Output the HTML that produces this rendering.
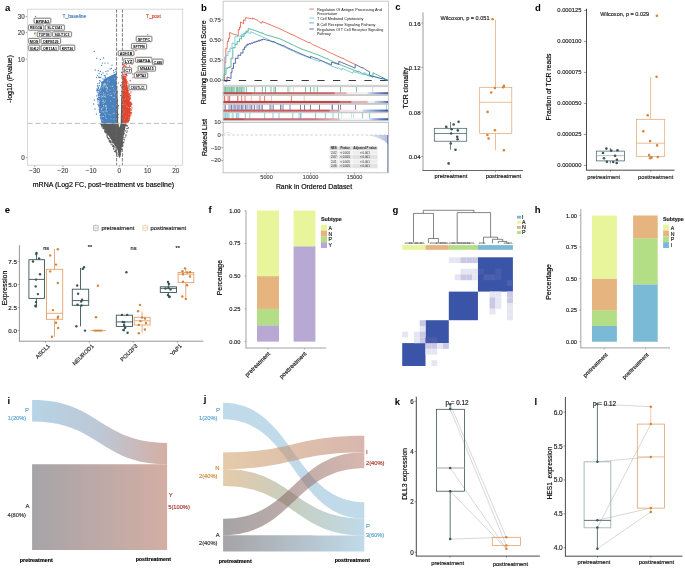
<!DOCTYPE html>
<html><head><meta charset="utf-8"><style>html,body{margin:0;padding:0;background:#fff;}svg{display:block;}text{font-family:"Liberation Sans",sans-serif;}</style></head>
<body><svg width="685" height="569" viewBox="0 0 685 569">
<rect width="685" height="569" fill="#fff"/>
<g style="will-change:transform">
<text x="5.00" y="7.90" font-size="9.5" text-anchor="start" fill="#000" dominant-baseline="central" font-weight="bold">a</text>
<line x1="34.70" y1="165.20" x2="34.70" y2="167.00" stroke="#555" stroke-width="0.5"/>
<text x="34.70" y="170.80" font-size="6.3" text-anchor="middle" fill="#4d4d4d" stroke="#4d4d4d" stroke-width="0.16" dominant-baseline="central">−30</text>
<line x1="62.90" y1="165.20" x2="62.90" y2="167.00" stroke="#555" stroke-width="0.5"/>
<text x="62.90" y="170.80" font-size="6.3" text-anchor="middle" fill="#4d4d4d" stroke="#4d4d4d" stroke-width="0.16" dominant-baseline="central">−20</text>
<line x1="91.10" y1="165.20" x2="91.10" y2="167.00" stroke="#555" stroke-width="0.5"/>
<text x="91.10" y="170.80" font-size="6.3" text-anchor="middle" fill="#4d4d4d" stroke="#4d4d4d" stroke-width="0.16" dominant-baseline="central">−10</text>
<line x1="119.30" y1="165.20" x2="119.30" y2="167.00" stroke="#555" stroke-width="0.5"/>
<text x="119.30" y="170.80" font-size="6.3" text-anchor="middle" fill="#4d4d4d" stroke="#4d4d4d" stroke-width="0.16" dominant-baseline="central">0</text>
<line x1="147.50" y1="165.20" x2="147.50" y2="167.00" stroke="#555" stroke-width="0.5"/>
<text x="147.50" y="170.80" font-size="6.3" text-anchor="middle" fill="#4d4d4d" stroke="#4d4d4d" stroke-width="0.16" dominant-baseline="central">10</text>
<line x1="175.70" y1="165.20" x2="175.70" y2="167.00" stroke="#555" stroke-width="0.5"/>
<text x="175.70" y="170.80" font-size="6.3" text-anchor="middle" fill="#4d4d4d" stroke="#4d4d4d" stroke-width="0.16" dominant-baseline="central">20</text>
<line x1="25.60" y1="157.70" x2="27.40" y2="157.70" stroke="#555" stroke-width="0.5"/>
<text x="24.80" y="157.70" font-size="6.3" text-anchor="end" fill="#4d4d4d" stroke="#4d4d4d" stroke-width="0.16" dominant-baseline="central">0</text>
<line x1="25.60" y1="59.18" x2="27.40" y2="59.18" stroke="#555" stroke-width="0.5"/>
<text x="24.80" y="59.18" font-size="6.3" text-anchor="end" fill="#4d4d4d" stroke="#4d4d4d" stroke-width="0.16" dominant-baseline="central">10</text>
<line x1="25.60" y1="32.62" x2="27.40" y2="32.62" stroke="#555" stroke-width="0.5"/>
<text x="24.80" y="32.62" font-size="6.3" text-anchor="end" fill="#4d4d4d" stroke="#4d4d4d" stroke-width="0.16" dominant-baseline="central">20</text>
<line x1="25.60" y1="16.62" x2="27.40" y2="16.62" stroke="#555" stroke-width="0.5"/>
<text x="24.80" y="16.62" font-size="6.3" text-anchor="end" fill="#4d4d4d" stroke="#4d4d4d" stroke-width="0.16" dominant-baseline="central">30</text>
<text x="9.60" y="79.00" font-size="7" text-anchor="middle" fill="#000" stroke="#000" stroke-width="0.16" dominant-baseline="central" transform="rotate(-90 9.6 79)">-log10 (Pvalue)</text>
<text x="103.50" y="184.30" font-size="7" text-anchor="middle" fill="#000" stroke="#000" stroke-width="0.16" dominant-baseline="central">mRNA (Log2 FC, post−treatment vs baseline)</text>
<polygon points="100.9,123.4 126.1,123.4 121.0,150.0 119.3,158.8 117.6,150.0" fill="#5b5b5b" stroke="none" stroke-width="0.5"/>
<path d="M107.6 134.3h0M126.4 125.9h0M125.3 125.4h0M107.9 138.0h0M123.1 137.7h0M127.1 131.0h0M112.7 142.8h0M126.3 125.1h0M103.6 128.3h0M115.7 150.8h0M112.6 144.9h0M102.0 125.6h0M112.7 146.3h0M111.0 143.1h0M120.8 150.1h0M123.7 142.7h0M115.3 147.9h0M104.4 127.5h0M103.0 128.6h0M122.3 145.9h0M117.0 152.8h0M122.6 143.4h0M120.7 151.6h0M113.4 145.7h0M122.9 145.2h0M106.9 133.0h0M101.2 124.3h0M104.4 127.4h0M103.6 127.8h0M116.2 152.7h0M123.8 141.9h0M116.0 152.4h0M125.9 135.5h0M103.5 128.6h0M105.9 131.3h0M105.9 132.3h0M125.8 135.9h0M122.2 146.6h0M114.2 146.2h0M121.7 149.6h0M107.2 136.6h0M111.2 144.7h0M104.8 130.5h0M101.6 125.3h0M102.1 126.9h0M120.1 152.8h0M105.6 132.0h0M128.3 127.6h0M108.4 139.1h0M102.8 126.9h0M114.4 151.3h0M119.6 155.4h0M110.9 141.7h0M119.8 156.3h0M105.2 132.2h0M121.7 149.4h0M108.1 134.5h0M119.8 156.5h0M120.6 150.9h0M109.1 140.8h0M101.5 124.4h0M121.8 146.7h0M120.4 154.9h0M107.1 135.7h0M105.3 130.1h0M120.3 153.7h0M121.5 145.4h0M122.7 145.6h0M113.5 148.6h0M115.8 149.9h0M117.8 156.1h0M119.6 155.2h0M104.9 127.8h0M116.2 150.5h0M119.5 156.3h0M109.6 141.9h0M119.7 156.0h0M118.4 154.8h0M114.9 151.2h0M106.9 133.3h0M105.1 132.2h0M116.9 154.0h0M122.6 143.0h0M120.2 154.2h0M110.4 141.0h0M105.6 129.6h0M105.2 129.3h0M111.1 142.1h0M122.2 142.1h0M110.5 142.3h0M121.4 149.4h0M121.3 149.0h0M122.6 144.0h0M113.5 146.7h0M124.1 139.5h0M120.2 152.9h0M123.7 142.2h0M103.9 128.1h0M101.8 125.9h0M122.8 145.9h0M126.8 128.7h0M128.0 128.3h0M125.4 130.9h0M124.4 139.8h0M104.5 128.9h0M106.9 134.9h0M114.0 147.7h0M108.7 138.3h0M121.6 144.4h0M119.9 156.5h0M102.2 127.0h0M113.8 149.6h0M124.9 137.6h0M107.2 132.2h0M122.1 142.6h0M126.7 125.4h0M127.4 125.9h0M116.2 150.4h0M126.8 125.7h0M126.0 134.9h0M106.3 132.5h0M104.8 131.5h0M102.0 125.2h0M124.4 133.7h0M109.7 140.3h0M100.7 124.1h0M121.1 148.1h0M122.7 139.4h0M115.5 150.9h0M115.8 151.5h0M121.7 146.5h0M121.0 151.4h0M107.3 137.1h0M104.5 127.8h0M104.9 132.1h0M121.0 151.7h0M105.9 132.9h0M109.3 138.9h0M126.8 132.3h0M112.2 141.8h0" stroke="#5b5b5b" stroke-width="1.3" stroke-linecap="round" fill="none" opacity="1"/>
<polygon points="116.6,123.4 118.2,123.4 117.7,100.0 117.2,88.0 116.6,82.0" fill="#5b5b5b" stroke="none" stroke-width="0.5"/>
<polygon points="122.5,123.4 120.7,123.4 121.2,100.0 121.7,88.0 122.5,78.0" fill="#5b5b5b" stroke="none" stroke-width="0.5"/>
<polygon points="118.2,123.3 120.7,123.3 119.5,127.8" fill="#ffffff" stroke="none" stroke-width="0.5"/>
<path d="M117.2 92.8h0M116.6 93.9h0M117.5 99.6h0M117.0 99.7h0M116.6 88.4h0M116.8 94.8h0M116.7 77.1h0M117.2 86.9h0M117.8 100.9h0M118.1 106.9h0M118.0 117.3h0M117.4 91.3h0M118.6 83.0h0M118.0 106.2h0M116.7 115.3h0M118.4 105.5h0M118.1 114.2h0M116.9 100.6h0M117.6 115.2h0M118.2 114.8h0M117.8 118.0h0M118.0 108.6h0M117.1 77.5h0M116.9 93.0h0M116.8 115.3h0M121.6 104.0h0M121.7 106.7h0M121.5 72.2h0M122.0 110.2h0M121.5 99.3h0M121.8 75.4h0M121.9 84.9h0M120.7 85.5h0M121.9 82.5h0M121.9 121.8h0M121.5 91.5h0M121.5 106.9h0M122.0 103.5h0M121.8 76.0h0M120.9 85.0h0M121.9 87.5h0M121.6 72.6h0M120.7 85.7h0M121.8 107.3h0M121.8 86.8h0M121.5 95.7h0M121.4 78.0h0M122.2 82.2h0M122.4 119.7h0M120.6 95.4h0" stroke="#5b5b5b" stroke-width="1.0" stroke-linecap="round" fill="none" opacity="1"/>
<polygon points="116.6,123.4 101.8,123.4 100.2,114.0 99.5,104.0 99.8,94.0 100.5,87.0 102.0,82.0 105.0,78.5 110.0,76.0 116.6,73.0" fill="#4a82bd" stroke="none" stroke-width="0.5"/>
<path d="M103.9 114.5h0M98.7 97.1h0M115.0 85.9h0M108.2 85.9h0M107.3 82.7h0M112.7 82.2h0M103.0 117.7h0M114.1 86.9h0M97.3 98.8h0M97.9 90.2h0M99.0 92.2h0M100.1 115.5h0M103.3 111.3h0M114.7 81.6h0M101.6 118.4h0M99.5 93.5h0M103.0 122.9h0M99.8 93.0h0M97.3 88.9h0M101.7 120.0h0M100.6 88.5h0M104.3 84.9h0M103.7 120.9h0M102.5 114.2h0M103.8 118.9h0M102.2 101.8h0M102.4 111.4h0M97.3 89.5h0M101.3 119.6h0M99.4 98.2h0M102.1 90.0h0M102.0 121.9h0M100.2 106.8h0M100.2 102.2h0M102.3 118.6h0M114.2 86.3h0M102.6 122.8h0M97.4 92.1h0M102.0 87.2h0M103.3 102.8h0M101.3 111.2h0M100.4 95.5h0M99.1 93.7h0M103.0 78.9h0M106.9 81.9h0M101.1 116.6h0M98.8 88.7h0M99.8 94.8h0M103.6 120.8h0M100.5 117.0h0M110.8 77.5h0M101.1 98.2h0M105.2 76.0h0M103.4 114.8h0M101.9 121.7h0M100.6 81.1h0M103.7 108.1h0M102.3 109.9h0M101.6 111.9h0M97.9 101.9h0M100.7 112.8h0M102.9 119.2h0M97.8 90.3h0M109.1 87.8h0M99.5 108.8h0M107.4 79.3h0M98.2 94.2h0M98.1 104.2h0M100.2 90.2h0M103.0 121.1h0M102.2 117.5h0M101.8 87.0h0M103.2 121.1h0M97.0 90.4h0M101.8 99.4h0M98.5 95.7h0M103.6 107.4h0M97.9 86.7h0M99.8 91.9h0M99.8 108.1h0M102.9 113.5h0M98.6 99.7h0M102.1 121.6h0M100.9 114.5h0M111.5 86.4h0M103.7 89.9h0M98.5 99.3h0M105.1 86.5h0M103.7 107.3h0M101.7 121.8h0M103.6 118.2h0M104.0 110.4h0M101.9 119.8h0M114.8 84.7h0M99.5 111.1h0M100.7 107.2h0M99.0 93.6h0M103.7 92.5h0M102.7 92.8h0M101.7 114.6h0M101.4 119.2h0M103.2 93.1h0M105.5 77.4h0M99.7 112.0h0M99.3 77.6h0M102.3 88.1h0M101.8 118.2h0M103.7 88.8h0M99.7 105.0h0M100.6 109.7h0M97.0 89.0h0M103.6 111.5h0M103.7 105.8h0M103.9 121.0h0M98.4 94.2h0M100.3 96.2h0M101.5 119.6h0M102.9 113.7h0M103.1 114.7h0M100.1 104.5h0M99.4 91.0h0M100.0 112.8h0M111.4 85.3h0M98.4 87.6h0M103.7 122.1h0M102.1 122.4h0M101.2 109.4h0M105.0 87.0h0M102.1 105.2h0M103.3 111.2h0M99.3 107.2h0M101.3 115.5h0M100.1 102.6h0M100.2 110.7h0M101.8 87.6h0M113.9 83.2h0M99.6 91.3h0M102.7 122.6h0M112.4 86.9h0M104.0 106.7h0M106.5 80.8h0M103.7 115.5h0M115.5 84.9h0M103.6 103.4h0M103.0 93.5h0M98.7 97.1h0M103.8 112.6h0M108.7 81.0h0M104.2 86.2h0M101.9 104.2h0M97.6 85.6h0M101.7 91.4h0M103.2 84.7h0M112.2 85.6h0M98.0 101.8h0M105.0 80.8h0M98.9 106.0h0M99.1 89.3h0M102.0 120.8h0M100.0 102.6h0M103.0 95.6h0M102.4 122.8h0M110.9 85.3h0M97.5 85.6h0M102.1 118.4h0M101.6 114.6h0M102.1 117.5h0M97.8 83.6h0M103.5 106.1h0M98.2 99.7h0M100.6 89.3h0M101.2 119.5h0M102.7 99.1h0M101.8 121.4h0M115.0 82.0h0M97.4 98.7h0M102.1 119.5h0M102.7 118.5h0M100.6 114.8h0M100.6 112.9h0M102.8 95.0h0M100.8 115.0h0M104.8 86.3h0M99.9 100.3h0M102.2 81.8h0M100.8 118.2h0M102.5 102.4h0M101.3 104.2h0M100.1 105.5h0M100.9 95.7h0M101.5 96.0h0M99.9 97.0h0M111.6 87.1h0M101.6 112.7h0M106.2 84.4h0M105.9 80.3h0M102.9 110.5h0M97.7 100.0h0M99.8 99.7h0M101.5 120.7h0M104.0 116.3h0M103.1 110.4h0M115.7 85.1h0M103.7 99.1h0M101.3 119.1h0M103.7 113.1h0M104.3 79.1h0M100.5 114.3h0M103.5 99.6h0M102.2 85.8h0M99.4 99.8h0M103.0 120.0h0M101.2 118.1h0M100.2 112.9h0M101.6 100.9h0M103.1 92.9h0M101.4 102.1h0M100.9 117.5h0M103.1 122.7h0M102.5 94.5h0M103.9 88.4h0M100.1 103.1h0M101.5 111.9h0M111.2 84.3h0M103.9 106.0h0M102.0 103.5h0M96.8 90.7h0M100.8 77.6h0M100.4 96.3h0M101.1 118.1h0M109.5 86.7h0M101.5 103.4h0M109.0 85.6h0M97.9 98.3h0M101.7 120.0h0M99.4 83.0h0M103.2 117.0h0M98.4 94.9h0M109.7 76.5h0M101.4 92.5h0M103.5 96.9h0M100.4 110.5h0M100.8 118.5h0M100.1 101.0h0M98.3 87.2h0M99.7 112.6h0M103.6 101.9h0M101.3 82.7h0M101.6 99.8h0M100.6 114.2h0M99.0 90.5h0M114.0 78.3h0M99.1 109.6h0M103.0 115.7h0M102.2 97.9h0M98.4 97.3h0M102.2 91.8h0M103.2 108.7h0M100.4 109.4h0M100.4 102.0h0M101.9 113.1h0M101.5 88.5h0M101.8 121.4h0M100.5 117.4h0M98.7 88.2h0M103.7 111.0h0M100.9 111.1h0M101.6 117.4h0M114.3 87.2h0M102.3 105.6h0M103.9 107.3h0M102.9 98.1h0M103.3 108.8h0M102.0 96.5h0M99.7 102.8h0M108.9 86.0h0M100.1 77.3h0M97.7 92.2h0M98.9 77.4h0M102.3 105.8h0M99.6 110.6h0M100.2 103.8h0M103.3 114.4h0M100.8 117.9h0M103.7 116.8h0M101.3 120.4h0M99.4 85.7h0M113.3 77.6h0M103.0 105.8h0M100.0 105.7h0M99.6 80.7h0M103.3 85.6h0M96.7 95.9h0M99.0 88.1h0M100.9 109.6h0M103.7 91.1h0M103.0 99.7h0M98.4 105.1h0M99.8 95.4h0M101.1 112.3h0M101.7 109.1h0M113.4 86.2h0M94.3 51.4h0M96.7 58.4h0M100.4 59.4h0M103.6 58.0h0M102.4 63.1h0M104.9 63.1h0M107.9 63.1h0M101.6 65.4h0M112.0 65.2h0M111.5 68.5h0M110.1 69.0h0M95.2 70.0h0M98.3 70.5h0M100.4 71.5h0M103.0 73.0h0M106.0 71.5h0M108.0 71.0h0M114.0 72.5h0M116.0 71.5h0M97.6 75.3h0M99.1 73.5h0M113.5 70.5h0M115.3 69.5h0M101.5 74.5h0M104.2 75.5h0M96.5 77.5h0M98.8 77.0h0M107.0 74.0h0M94.5 100.0h0M93.6 104.0h0M95.0 109.0h0M96.4 114.0h0" stroke="#4a82bd" stroke-width="1.3" stroke-linecap="round" fill="none" opacity="1"/>
<path d="M100.3 113.6h0M100.9 80.1h0M101.2 111.2h0M107.8 80.2h0M103.7 100.2h0M106.3 87.6h0M103.7 94.2h0M106.6 90.7h0M107.5 91.6h0M101.3 108.7h0M103.7 84.5h0M104.9 83.3h0M106.2 108.6h0M106.2 105.7h0M102.5 96.5h0M102.9 116.5h0M100.2 116.4h0M99.7 88.5h0M101.7 116.9h0M103.8 95.6h0M107.0 89.6h0M103.4 101.8h0M105.9 110.9h0M105.0 94.3h0M102.3 86.4h0M106.7 107.1h0M105.8 87.0h0M103.2 111.7h0M104.4 85.2h0M103.4 116.3h0M101.5 87.9h0M102.1 108.8h0M106.7 86.3h0M100.8 90.2h0M102.3 101.4h0M100.9 93.5h0M101.1 120.0h0M105.7 84.2h0M107.7 84.2h0M102.8 120.3h0M106.3 110.1h0M103.2 88.0h0M104.9 84.4h0M101.3 95.9h0M99.8 96.4h0M106.2 108.4h0M103.8 105.9h0M103.4 85.8h0M104.6 96.6h0M105.8 117.2h0M103.2 103.5h0M105.9 97.3h0M101.4 109.6h0M107.0 111.7h0M105.5 115.0h0M105.3 106.3h0M103.4 92.8h0M104.8 84.0h0M103.1 112.1h0M105.6 105.8h0M101.6 97.4h0M103.4 105.5h0M103.0 107.7h0M107.4 87.5h0M105.1 111.9h0M102.8 100.1h0M107.8 81.6h0M104.1 86.6h0M106.1 118.6h0M103.9 84.1h0M104.4 102.2h0M105.6 101.0h0M104.9 114.0h0M103.9 96.8h0M107.6 88.6h0M105.3 96.1h0M106.0 85.0h0M107.9 94.6h0M100.0 91.2h0M102.9 80.5h0M111.3 95.3h0M113.6 92.2h0M110.1 86.3h0M113.9 119.2h0M112.2 86.1h0M114.4 94.0h0M109.7 81.9h0M114.2 113.2h0M113.1 97.6h0M112.5 86.4h0M115.7 92.2h0M113.1 113.7h0M114.5 97.5h0M110.4 101.2h0M109.0 114.4h0M110.8 115.1h0M110.1 93.3h0M110.0 95.6h0M109.5 76.1h0M113.8 88.9h0M110.0 89.9h0M111.8 95.7h0M113.1 106.3h0M110.9 118.7h0M114.8 78.6h0" stroke="#ffffff" stroke-width="0.8" stroke-linecap="round" fill="none" opacity="0.75"/>
<polygon points="122.5,123.4 126.8,123.4 129.3,118.0 130.2,112.0 129.8,100.0 128.3,90.0 126.3,81.0 124.3,76.5 122.5,75.0" fill="#e2462f" stroke="none" stroke-width="0.5"/>
<path d="M130.9 114.9h0M129.3 112.8h0M130.1 115.1h0M123.5 76.7h0M128.4 120.7h0M126.9 87.8h0M125.9 82.7h0M130.0 112.5h0M127.9 83.2h0M129.3 113.2h0M129.1 117.9h0M130.9 112.7h0M129.6 118.0h0M128.7 115.4h0M130.4 108.6h0M130.3 110.9h0M129.1 117.5h0M127.5 88.4h0M126.6 82.5h0M125.4 78.7h0M126.6 82.8h0M129.6 99.4h0M127.9 116.6h0M129.5 115.5h0M130.2 102.4h0M129.2 115.5h0M130.5 95.7h0M126.1 79.5h0M128.8 105.9h0M130.5 104.7h0M127.8 119.8h0M127.6 122.1h0M130.6 98.8h0M125.8 77.6h0M129.6 105.4h0M128.9 116.5h0M129.5 98.3h0M129.7 112.2h0M129.0 96.5h0M130.7 102.0h0M129.6 89.8h0M129.1 95.0h0M128.4 88.8h0M128.1 121.8h0M129.8 113.2h0M128.2 90.9h0M130.2 103.6h0M129.1 112.9h0M131.5 110.0h0M128.4 101.6h0M127.3 90.1h0M128.4 84.9h0M130.4 104.6h0M131.4 113.1h0M130.3 104.8h0M130.6 105.5h0M130.4 104.0h0M128.0 86.0h0M130.1 97.5h0M125.2 80.8h0M126.0 77.7h0M129.0 119.0h0M129.9 93.3h0M130.5 113.0h0M127.6 88.1h0M128.7 95.8h0M129.6 96.2h0M127.0 119.9h0M128.5 102.7h0M127.2 81.6h0M131.0 103.0h0M127.9 97.0h0M129.3 94.2h0M129.5 120.1h0M129.2 98.3h0M126.5 80.8h0M126.6 86.0h0M123.5 76.7h0M129.2 108.1h0M126.6 121.4h0M128.1 116.9h0M125.6 76.8h0M128.6 87.4h0M126.0 84.8h0M131.1 112.4h0M130.0 116.2h0M126.2 80.0h0M130.3 109.3h0M127.6 119.8h0M128.4 121.3h0M123.5 76.5h0M131.0 106.6h0M125.2 79.7h0M129.5 110.3h0M129.2 116.5h0M125.1 78.8h0M129.7 103.0h0M129.2 107.8h0M129.8 113.5h0M130.5 106.3h0M128.9 95.6h0M131.6 113.0h0M130.5 112.9h0M127.4 89.7h0M128.3 121.8h0M129.3 114.9h0M131.3 104.5h0M130.0 115.1h0M128.5 90.5h0M128.5 117.7h0M125.6 71.8h0M126.5 74.5h0M123.8 64.0h0M123.8 69.5h0M125.2 74.6h0M126.5 64.5h0M126.3 74.6h0M126.4 71.4h0M123.8 75.1h0M126.2 72.9h0M126.6 68.5h0M123.0 71.2h0M126.1 66.6h0M125.9 76.1h0M123.6 71.9h0M125.6 70.0h0M123.5 67.3h0M125.9 74.3h0M124.6 65.1h0M126.1 74.0h0M123.6 71.5h0M126.5 75.5h0M124.9 70.2h0M125.2 66.5h0M123.4 66.3h0M125.7 68.7h0M125.1 69.2h0M124.9 65.9h0M122.8 77.0h0M124.2 65.4h0M125.4 74.2h0M123.3 71.8h0M124.1 70.8h0M122.7 64.4h0M127.0 75.3h0M124.7 71.4h0M123.8 74.1h0M124.5 76.3h0M126.0 74.6h0M126.8 67.3h0M147.8 34.9h0M135.0 43.6h0M136.0 50.5h0M134.0 54.0h0M135.0 58.0h0M141.5 62.0h0M132.0 64.5h0M129.5 66.0h0M128.0 67.5h0M126.5 69.0h0M137.0 71.5h0M136.5 73.5h0M132.7 74.0h0M130.2 80.7h0M133.0 77.5h0M132.0 86.0h0M134.5 89.5h0M131.0 92.0h0M133.4 86.5h0M132.0 108.0h0M131.8 104.0h0" stroke="#e2462f" stroke-width="1.35" stroke-linecap="round" fill="none" opacity="1"/>
<path d="M123.7 88.2h0M124.5 83.4h0M123.8 102.9h0M128.3 98.8h0M128.7 117.3h0M123.9 104.5h0M125.7 84.9h0M128.8 90.5h0M126.6 106.3h0M128.8 107.5h0M125.7 98.4h0M124.4 119.6h0M129.0 89.1h0M123.7 90.5h0M125.4 117.0h0M128.5 114.3h0M123.8 112.2h0M127.4 106.5h0M128.9 82.3h0M124.3 111.0h0M128.7 107.8h0M125.1 104.3h0M127.7 84.3h0M125.3 90.5h0M124.2 99.7h0" stroke="#ffffff" stroke-width="0.6" stroke-linecap="round" fill="none" opacity="0.5"/>
<line x1="27.40" y1="123.40" x2="182.70" y2="123.40" stroke="#bdbdbd" stroke-width="1.0" stroke-dasharray="5.2,2.7"/>
<line x1="116.60" y1="9.20" x2="116.60" y2="165.20" stroke="#666" stroke-width="0.85" stroke-dasharray="3.5,1.3"/>
<line x1="122.40" y1="9.20" x2="122.40" y2="165.20" stroke="#666" stroke-width="0.85" stroke-dasharray="3.5,1.3"/>
<rect x="27.40" y="9.20" width="155.30" height="156.00" fill="none" stroke="#cfcfcf" stroke-width="0.8"/>
<text x="62.50" y="16.80" font-size="4.85" text-anchor="start" fill="#4a82bd" stroke="#4a82bd" stroke-width="0.16" dominant-baseline="central">T_baseline</text>
<text x="146.00" y="16.80" font-size="4.85" text-anchor="start" fill="#e2462f" stroke="#e2462f" stroke-width="0.16" dominant-baseline="central">T_post</text>
<line x1="35.20" y1="23.00" x2="35.20" y2="31.00" stroke="#e8d44a" stroke-width="0.5"/>
<line x1="35.20" y1="30.00" x2="35.20" y2="45.00" stroke="#e8d44a" stroke-width="0.5"/>
<line x1="36.00" y1="36.00" x2="38.00" y2="36.00" stroke="#e8d44a" stroke-width="0.5"/>
<line x1="41.00" y1="43.00" x2="41.00" y2="46.00" stroke="#e8d44a" stroke-width="0.5"/>
<line x1="45.00" y1="30.00" x2="45.00" y2="33.00" stroke="#e8d44a" stroke-width="0.5"/>
<line x1="56.00" y1="36.00" x2="56.00" y2="38.50" stroke="#e8d44a" stroke-width="0.5"/>
<line x1="66.00" y1="47.00" x2="66.00" y2="48.00" stroke="#e8d44a" stroke-width="0.5"/>
<line x1="47.00" y1="35.00" x2="49.00" y2="35.00" stroke="#e8d44a" stroke-width="0.5"/>
<line x1="33.00" y1="36.70" x2="33.00" y2="45.00" stroke="#e8d44a" stroke-width="0.5"/>
<rect x="33.70" y="17.80" width="17.50" height="5.80" fill="#fff" stroke="#d8d8d8" stroke-width="0.8" rx="1"/>
<rect x="34.20" y="18.30" width="16.50" height="4.80" fill="#fff" stroke="#3c3c3c" stroke-width="0.6" rx="0.8"/>
<text x="42.45" y="21.00" font-size="4.1" text-anchor="middle" fill="#000" dominant-baseline="central" font-weight="bold" textLength="13.2" lengthAdjust="spacingAndGlyphs">BPIFA3</text>
<rect x="28.00" y="24.60" width="16.30" height="6.00" fill="#fff" stroke="#d8d8d8" stroke-width="0.8" rx="1"/>
<rect x="28.50" y="25.10" width="15.30" height="5.00" fill="#fff" stroke="#3c3c3c" stroke-width="0.6" rx="0.8"/>
<text x="36.15" y="27.90" font-size="4.1" text-anchor="middle" fill="#000" dominant-baseline="central" font-weight="bold" textLength="12.2" lengthAdjust="spacingAndGlyphs">REG3A</text>
<rect x="44.80" y="24.60" width="20.10" height="6.00" fill="#fff" stroke="#d8d8d8" stroke-width="0.8" rx="1"/>
<rect x="45.30" y="25.10" width="19.10" height="5.00" fill="#fff" stroke="#3c3c3c" stroke-width="0.6" rx="0.8"/>
<text x="54.85" y="27.90" font-size="4.1" text-anchor="middle" fill="#000" dominant-baseline="central" font-weight="bold" textLength="15.3" lengthAdjust="spacingAndGlyphs">SLC13A1</text>
<rect x="36.80" y="31.40" width="14.80" height="5.80" fill="#fff" stroke="#d8d8d8" stroke-width="0.8" rx="1"/>
<rect x="37.30" y="31.90" width="13.80" height="4.80" fill="#fff" stroke="#3c3c3c" stroke-width="0.6" rx="0.8"/>
<text x="44.20" y="34.60" font-size="4.1" text-anchor="middle" fill="#000" dominant-baseline="central" font-weight="bold" textLength="11.0" lengthAdjust="spacingAndGlyphs">TOP1B</text>
<rect x="52.10" y="31.40" width="19.80" height="5.80" fill="#fff" stroke="#d8d8d8" stroke-width="0.8" rx="1"/>
<rect x="52.60" y="31.90" width="18.80" height="4.80" fill="#fff" stroke="#3c3c3c" stroke-width="0.6" rx="0.8"/>
<text x="62.00" y="34.60" font-size="4.1" text-anchor="middle" fill="#000" dominant-baseline="central" font-weight="bold" textLength="15.0" lengthAdjust="spacingAndGlyphs">SULT1C3</text>
<rect x="28.20" y="38.00" width="11.70" height="6.00" fill="#fff" stroke="#d8d8d8" stroke-width="0.8" rx="1"/>
<rect x="28.70" y="38.50" width="10.70" height="5.00" fill="#fff" stroke="#3c3c3c" stroke-width="0.6" rx="0.8"/>
<text x="34.05" y="41.30" font-size="4.1" text-anchor="middle" fill="#000" dominant-baseline="central" font-weight="bold" textLength="8.6" lengthAdjust="spacingAndGlyphs">MOS</text>
<rect x="40.70" y="38.00" width="20.30" height="6.00" fill="#fff" stroke="#d8d8d8" stroke-width="0.8" rx="1"/>
<rect x="41.20" y="38.50" width="19.30" height="5.00" fill="#fff" stroke="#3c3c3c" stroke-width="0.6" rx="0.8"/>
<text x="50.85" y="41.30" font-size="4.1" text-anchor="middle" fill="#000" dominant-baseline="central" font-weight="bold" textLength="15.4" lengthAdjust="spacingAndGlyphs">DEFB129</text>
<rect x="28.20" y="44.70" width="12.00" height="6.30" fill="#fff" stroke="#d8d8d8" stroke-width="0.8" rx="1"/>
<rect x="28.70" y="45.20" width="11.00" height="5.30" fill="#fff" stroke="#3c3c3c" stroke-width="0.6" rx="0.8"/>
<text x="34.20" y="48.15" font-size="4.1" text-anchor="middle" fill="#000" dominant-baseline="central" font-weight="bold" textLength="8.8" lengthAdjust="spacingAndGlyphs">IGKJ</text>
<rect x="40.70" y="44.70" width="18.50" height="6.30" fill="#fff" stroke="#d8d8d8" stroke-width="0.8" rx="1"/>
<rect x="41.20" y="45.20" width="17.50" height="5.30" fill="#fff" stroke="#3c3c3c" stroke-width="0.6" rx="0.8"/>
<text x="49.95" y="48.15" font-size="4.1" text-anchor="middle" fill="#000" dominant-baseline="central" font-weight="bold" textLength="14.0" lengthAdjust="spacingAndGlyphs">OR11A1</text>
<rect x="59.80" y="44.70" width="15.40" height="6.30" fill="#fff" stroke="#d8d8d8" stroke-width="0.8" rx="1"/>
<rect x="60.30" y="45.20" width="14.40" height="5.30" fill="#fff" stroke="#3c3c3c" stroke-width="0.6" rx="0.8"/>
<text x="67.50" y="48.15" font-size="4.1" text-anchor="middle" fill="#000" dominant-baseline="central" font-weight="bold" textLength="11.5" lengthAdjust="spacingAndGlyphs">KRT36</text>
<path d="M35.5 16.5h0M35.0 33.0h0M34.5 33.8h0" stroke="#4a82bd" stroke-width="1.3" stroke-linecap="round" fill="none" opacity="1"/>
<line x1="146.00" y1="62.00" x2="152.50" y2="61.00" stroke="#e8d44a" stroke-width="0.5"/>
<line x1="134.00" y1="66.00" x2="138.20" y2="68.50" stroke="#e8d44a" stroke-width="0.5"/>
<rect x="135.80" y="35.90" width="16.50" height="6.10" fill="#fff" stroke="#d8d8d8" stroke-width="0.8" rx="1"/>
<rect x="136.30" y="36.40" width="15.50" height="5.10" fill="#fff" stroke="#3c3c3c" stroke-width="0.6" rx="0.8"/>
<text x="144.05" y="39.25" font-size="4.1" text-anchor="middle" fill="#000" dominant-baseline="central" font-weight="bold" textLength="12.4" lengthAdjust="spacingAndGlyphs">SFTPC</text>
<rect x="131.00" y="43.10" width="16.00" height="6.20" fill="#fff" stroke="#d8d8d8" stroke-width="0.8" rx="1"/>
<rect x="131.50" y="43.60" width="15.00" height="5.20" fill="#fff" stroke="#3c3c3c" stroke-width="0.6" rx="0.8"/>
<text x="139.00" y="46.50" font-size="4.1" text-anchor="middle" fill="#000" dominant-baseline="central" font-weight="bold" textLength="12.0" lengthAdjust="spacingAndGlyphs">SFTPB</text>
<rect x="117.80" y="50.30" width="16.50" height="5.80" fill="#fff" stroke="#d8d8d8" stroke-width="0.8" rx="1"/>
<rect x="118.30" y="50.80" width="15.50" height="4.80" fill="#fff" stroke="#3c3c3c" stroke-width="0.6" rx="0.8"/>
<text x="126.05" y="53.50" font-size="4.1" text-anchor="middle" fill="#000" dominant-baseline="central" font-weight="bold" textLength="12.4" lengthAdjust="spacingAndGlyphs">ADH1B</text>
<rect x="123.30" y="58.20" width="10.60" height="5.80" fill="#fff" stroke="#d8d8d8" stroke-width="0.8" rx="1"/>
<rect x="123.80" y="58.70" width="9.60" height="4.80" fill="#fff" stroke="#3c3c3c" stroke-width="0.6" rx="0.8"/>
<text x="128.60" y="61.40" font-size="4.1" text-anchor="middle" fill="#000" dominant-baseline="central" font-weight="bold" textLength="7.7" lengthAdjust="spacingAndGlyphs">LYZ</text>
<rect x="135.10" y="56.90" width="17.20" height="5.80" fill="#fff" stroke="#d8d8d8" stroke-width="0.8" rx="1"/>
<rect x="135.60" y="57.40" width="16.20" height="4.80" fill="#fff" stroke="#3c3c3c" stroke-width="0.6" rx="0.8"/>
<text x="143.70" y="60.10" font-size="4.1" text-anchor="middle" fill="#000" dominant-baseline="central" font-weight="bold" textLength="13.0" lengthAdjust="spacingAndGlyphs">NAPSA</text>
<rect x="152.00" y="58.70" width="11.50" height="6.20" fill="#fff" stroke="#d8d8d8" stroke-width="0.8" rx="1"/>
<rect x="152.50" y="59.20" width="10.50" height="5.20" fill="#fff" stroke="#3c3c3c" stroke-width="0.6" rx="0.8"/>
<text x="157.75" y="62.10" font-size="4.1" text-anchor="middle" fill="#000" dominant-baseline="central" font-weight="bold" textLength="8.4" lengthAdjust="spacingAndGlyphs">C4B</text>
<rect x="137.70" y="65.70" width="18.30" height="5.80" fill="#fff" stroke="#d8d8d8" stroke-width="0.8" rx="1"/>
<rect x="138.20" y="66.20" width="17.30" height="4.80" fill="#fff" stroke="#3c3c3c" stroke-width="0.6" rx="0.8"/>
<text x="146.85" y="68.90" font-size="4.1" text-anchor="middle" fill="#000" dominant-baseline="central" font-weight="bold" textLength="13.8" lengthAdjust="spacingAndGlyphs">MS4A15</text>
<rect x="124.00" y="67.20" width="8.00" height="6.30" fill="#fff" stroke="#d8d8d8" stroke-width="0.8" rx="1"/>
<rect x="124.50" y="67.70" width="7.00" height="5.30" fill="#fff" stroke="#3c3c3c" stroke-width="0.6" rx="0.8"/>
<text x="128.00" y="70.65" font-size="4.1" text-anchor="middle" fill="#000" dominant-baseline="central" font-weight="bold" textLength="5.6" lengthAdjust="spacingAndGlyphs">C7</text>
<rect x="133.80" y="72.50" width="14.30" height="5.90" fill="#fff" stroke="#d8d8d8" stroke-width="0.8" rx="1"/>
<rect x="134.30" y="73.00" width="13.30" height="4.90" fill="#fff" stroke="#3c3c3c" stroke-width="0.6" rx="0.8"/>
<text x="140.95" y="75.75" font-size="4.1" text-anchor="middle" fill="#000" dominant-baseline="central" font-weight="bold" textLength="10.6" lengthAdjust="spacingAndGlyphs">SFTA2</text>
<rect x="128.50" y="84.30" width="18.50" height="5.80" fill="#fff" stroke="#d8d8d8" stroke-width="0.8" rx="1"/>
<rect x="129.00" y="84.80" width="17.50" height="4.80" fill="#fff" stroke="#3c3c3c" stroke-width="0.6" rx="0.8"/>
<text x="137.75" y="87.50" font-size="4.1" text-anchor="middle" fill="#000" dominant-baseline="central" font-weight="bold" textLength="14.0" lengthAdjust="spacingAndGlyphs">CKGTLC1</text>
<text x="201.00" y="7.90" font-size="9.5" text-anchor="start" fill="#000" dominant-baseline="central" font-weight="bold">b</text>
<line x1="223.10" y1="80.50" x2="388.50" y2="80.50" stroke="#222" stroke-width="0.9" stroke-dasharray="7.3,8.4"/>
<polyline points="223.3,80.5 224.5,80.0 225.0,62.0 225.8,62.5 225.8,48.6 227.0,49.1 227.0,48.0 227.5,41.0 228.5,41.5 228.5,38.0 229.6,38.5 229.6,32.4 233.0,34.0 237.6,35.2 238.3,35.7 238.3,29.6 239.5,30.1 239.5,27.0 240.5,27.5 240.5,21.9 242.6,23.3 243.5,23.8 243.5,20.0 245.3,20.5 245.3,17.7 248.4,18.1 251.6,18.6 252.5,19.1 252.5,18.0 258.0,20.5 260.0,22.6 262.0,23.1 262.0,21.5 265.0,22.6 268.0,23.9 271.0,25.1 274.0,26.4 277.0,27.6 280.0,28.9 283.3,30.5 286.7,32.1 290.0,33.7 293.3,35.3 293.3,34.9 296.7,36.9 300.0,38.5 303.1,39.9 306.1,41.4 309.2,42.8 309.2,42.1 312.3,44.3 315.3,45.7 318.4,47.1 321.5,48.6 324.5,50.0 324.5,49.6 327.6,51.5 330.7,52.9 333.7,54.3 336.8,55.8 339.9,57.2 342.9,58.6 342.9,58.1 346.0,60.1 349.1,61.5 352.1,63.0 355.2,64.4" fill="none" stroke="#e8553f" stroke-width="0.8" stroke-linejoin="round"/>
<polyline points="223.2,80.0 223.8,80.5 223.8,74.0 226.0,74.5 226.0,68.0 227.7,68.5 227.7,67.4 229.3,67.9 229.3,66.8 231.0,67.3 231.0,58.0 232.8,58.5 232.8,47.5 235.0,48.0 235.0,44.0 237.2,44.5 237.2,41.3 239.5,41.8 239.5,38.5 241.6,39.0 241.6,36.0 244.0,36.5 244.0,33.0 246.0,33.5 246.0,31.0 248.2,31.5 248.2,28.5 251.6,29.5 255.0,30.5 258.3,31.8 261.7,33.2 261.7,32.7 265.0,34.5 268.0,35.4 271.0,36.2 274.0,37.1 277.0,37.9 280.0,38.8 283.3,40.4 286.7,42.0 290.0,43.6 293.3,45.2 296.7,46.8 300.0,48.4 303.1,49.5 306.1,50.6 309.2,51.7 312.3,52.8 315.3,53.9 318.4,55.0 321.4,56.3 324.4,57.7 327.4,59.0 327.4,58.6 330.4,60.4 333.4,61.7 336.4,63.1 339.4,64.4 342.6,65.7 345.7,66.9 348.9,68.2 352.0,69.4 355.2,70.7 358.7,72.0 358.7,71.4 362.3,73.3 365.8,74.7 369.4,76.0 372.9,77.3 372.9,72.7 376.0,74.3 379.1,75.8 382.3,77.4 385.4,78.9 388.5,80.5" fill="none" stroke="#3aa97c" stroke-width="0.8" stroke-linejoin="round"/>
<polyline points="223.2,80.0 223.5,75.0 224.6,75.5 224.6,57.0 226.0,57.5 226.0,55.0 228.0,55.5 228.0,51.4 230.0,51.9 230.0,48.0 232.0,48.5 232.0,43.0 234.9,43.5 234.9,36.6 237.6,37.1 237.6,35.2 239.0,36.0 241.0,36.5 241.0,34.5 243.0,35.0 243.0,33.8 245.0,34.3 245.0,32.4 248.0,32.8 250.9,33.3 250.9,31.7 254.4,33.3 257.9,34.9 261.5,36.4 265.0,38.0 268.0,39.4 271.0,40.8 274.0,42.3 274.0,41.9 277.0,43.7 280.0,45.1 283.3,46.6 286.7,48.2 290.0,49.7 293.3,51.2 296.7,52.8 300.0,54.3 303.0,55.4 306.0,56.5 309.0,57.6 312.0,58.8 315.0,59.9 318.0,61.0 320.0,61.5 320.0,60.0 323.8,62.0 327.7,64.1 331.5,66.1 334.7,67.2 337.8,68.4 337.8,67.5 341.0,69.5 342.0,70.0 342.0,68.2 345.3,69.7 348.6,71.2 351.9,72.7 353.0,73.2 353.0,71.5 356.0,72.4 356.0,71.5 359.0,73.3 362.0,74.2 364.0,74.7 364.0,72.5 367.5,74.2 371.0,76.0 374.5,76.9 378.0,77.8 381.5,78.7 385.0,79.6 388.5,80.5" fill="none" stroke="#62c3d3" stroke-width="0.8" stroke-linejoin="round"/>
<polyline points="223.3,80.5 225.0,81.0 227.0,81.5 227.0,77.0 230.2,78.1 231.0,78.6 231.0,72.0 232.0,72.5 232.0,68.0 233.5,68.5 233.5,63.0 235.4,63.5 235.4,58.0 238.0,58.5 238.0,55.0 240.7,55.5 240.7,52.7 243.0,53.2 243.0,49.0 244.5,49.5 244.5,46.9 246.0,47.4 246.0,44.8 247.5,45.3 247.5,44.1 249.0,44.6 249.0,43.5 251.0,44.0 251.0,42.9 253.0,43.4 253.0,42.2 254.7,42.7 254.7,41.6 256.3,42.1 256.3,41.1 258.0,41.6 258.0,40.5 259.6,41.0 259.6,40.0 261.1,40.5 261.1,39.5 262.7,40.0 262.7,39.0 266.4,40.0 270.0,40.9 273.3,42.1 273.3,41.4 276.7,43.2 280.0,44.4 283.3,45.9 283.3,45.3 286.7,47.4 290.0,48.9 293.3,50.4 296.7,51.9 300.0,53.4 303.3,54.8 306.6,56.2 309.9,57.6 310.5,58.1 310.5,56.3 313.5,57.5 316.5,58.7 316.5,58.2 319.5,59.9 322.5,61.2 325.5,62.4 328.5,63.6 331.5,64.8 331.5,62.2 335.1,63.3 338.8,64.4 338.8,61.3 342.1,62.7 345.4,64.0 348.6,65.4 351.9,66.7 355.2,68.1 355.2,64.4 358.8,66.2 362.4,68.1 362.4,67.3 366.0,70.0 369.6,71.8 369.6,75.3 372.8,76.2 375.9,77.0 379.1,77.9 382.2,78.8 382.2,77.8 385.4,79.6 388.5,80.5" fill="none" stroke="#3e4f98" stroke-width="0.8" stroke-linejoin="round"/>
<rect x="223.10" y="1.20" width="165.40" height="84.10" fill="none" stroke="#c4c4c4" stroke-width="0.9"/>
<line x1="221.40" y1="19.90" x2="223.10" y2="19.90" stroke="#555" stroke-width="0.5"/>
<text x="220.90" y="19.90" font-size="5.9" text-anchor="end" fill="#4d4d4d" stroke="#4d4d4d" stroke-width="0.16" dominant-baseline="central">0.75</text>
<line x1="221.40" y1="40.10" x2="223.10" y2="40.10" stroke="#555" stroke-width="0.5"/>
<text x="220.90" y="40.10" font-size="5.9" text-anchor="end" fill="#4d4d4d" stroke="#4d4d4d" stroke-width="0.16" dominant-baseline="central">0.50</text>
<line x1="221.40" y1="60.10" x2="223.10" y2="60.10" stroke="#555" stroke-width="0.5"/>
<text x="220.90" y="60.10" font-size="5.9" text-anchor="end" fill="#4d4d4d" stroke="#4d4d4d" stroke-width="0.16" dominant-baseline="central">0.25</text>
<line x1="221.40" y1="80.10" x2="223.10" y2="80.10" stroke="#555" stroke-width="0.5"/>
<text x="220.90" y="80.10" font-size="5.9" text-anchor="end" fill="#4d4d4d" stroke="#4d4d4d" stroke-width="0.16" dominant-baseline="central">0.00</text>
<text x="203.80" y="62.30" font-size="7" text-anchor="middle" fill="#000" stroke="#000" stroke-width="0.16" dominant-baseline="central" transform="rotate(-90 203.8 62.3)">Running Enrichment Score</text>
<line x1="309.30" y1="9.10" x2="313.90" y2="9.10" stroke="#e8553f" stroke-width="0.8"/>
<text x="316.90" y="9.10" font-size="4.1" text-anchor="start" fill="#111" dominant-baseline="central" textLength="64.9" lengthAdjust="spacingAndGlyphs">Regulation Of Antigen Processing And</text>
<text x="316.90" y="13.20" font-size="4.1" text-anchor="start" fill="#111" dominant-baseline="central" textLength="20.5" lengthAdjust="spacingAndGlyphs">Presentation</text>
<line x1="309.30" y1="18.10" x2="313.90" y2="18.10" stroke="#62c3d3" stroke-width="0.8"/>
<text x="316.90" y="18.10" font-size="4.1" text-anchor="start" fill="#111" dominant-baseline="central" textLength="46.5" lengthAdjust="spacingAndGlyphs">T Cell Mediated Cytotoxicity</text>
<line x1="309.30" y1="22.90" x2="313.90" y2="22.90" stroke="#3aa97c" stroke-width="0.8"/>
<text x="316.90" y="24.00" font-size="4.1" text-anchor="start" fill="#111" dominant-baseline="central" textLength="58.5" lengthAdjust="spacingAndGlyphs">B Cell Receptor Signaling Pathway</text>
<line x1="309.30" y1="29.00" x2="313.90" y2="29.00" stroke="#3e4f98" stroke-width="0.8"/>
<text x="316.90" y="29.00" font-size="4.1" text-anchor="start" fill="#111" dominant-baseline="central" textLength="66.5" lengthAdjust="spacingAndGlyphs">Regulation Of T Cell Receptor Signaling</text>
<text x="316.90" y="33.00" font-size="4.1" text-anchor="start" fill="#111" dominant-baseline="central" textLength="14.0" lengthAdjust="spacingAndGlyphs">Pathway</text>
<defs><linearGradient id="rg0" x1="0" x2="1" y1="0" y2="0"><stop offset="0" stop-color="#c24c4c"/><stop offset="0.17" stop-color="#c24c4c"/><stop offset="0.18" stop-color="#cc6666"/><stop offset="0.67" stop-color="#cc6666"/><stop offset="0.68" stop-color="#e2aab0"/><stop offset="0.74" stop-color="#e2aab0"/><stop offset="0.75" stop-color="#f6e6e8"/><stop offset="0.87" stop-color="#f2f2f6"/><stop offset="0.88" stop-color="#c8d4ea"/><stop offset="0.95" stop-color="#6a86c0"/><stop offset="1" stop-color="#3e5aa4"/></linearGradient><linearGradient id="rg1" x1="0" x2="1" y1="0" y2="0"><stop offset="0" stop-color="#c04646"/><stop offset="0.7" stop-color="#c04646"/><stop offset="0.71" stop-color="#cf6a6a"/><stop offset="0.77" stop-color="#cf6a6a"/><stop offset="0.78" stop-color="#e6b0b4"/><stop offset="0.87" stop-color="#e6b0b4"/><stop offset="0.88" stop-color="#f6f0f2"/><stop offset="0.91" stop-color="#f0f0f6"/><stop offset="0.92" stop-color="#c8d6ea"/><stop offset="0.97" stop-color="#8aa2cc"/><stop offset="1" stop-color="#4a66aa"/></linearGradient><linearGradient id="rg2" x1="0" x2="1" y1="0" y2="0"><stop offset="0" stop-color="#c85a5a"/><stop offset="0.64" stop-color="#c85a5a"/><stop offset="0.65" stop-color="#dba0a6"/><stop offset="0.7" stop-color="#dba0a6"/><stop offset="0.71" stop-color="#f4e0e4"/><stop offset="0.8" stop-color="#f4e8ec"/><stop offset="0.84" stop-color="#f4f4f8"/><stop offset="0.85" stop-color="#c0d0e8"/><stop offset="0.93" stop-color="#6e8cc4"/><stop offset="1" stop-color="#3c58a8"/></linearGradient><linearGradient id="rg3" x1="0" x2="1" y1="0" y2="0"><stop offset="0" stop-color="#be4a4a"/><stop offset="0.12" stop-color="#be4a4a"/><stop offset="0.13" stop-color="#c86670"/><stop offset="0.55" stop-color="#cc7a82"/><stop offset="0.7" stop-color="#e6bcc2"/><stop offset="0.71" stop-color="#f8eef0"/><stop offset="0.88" stop-color="#f4f4f8"/><stop offset="0.89" stop-color="#c6d4ea"/><stop offset="0.95" stop-color="#6a88c2"/><stop offset="1" stop-color="#3e5aa6"/></linearGradient></defs>
<rect x="223.10" y="86.70" width="165.40" height="8.10" fill="#fff" stroke="none" stroke-width="0.6"/>
<line x1="224.20" y1="87.00" x2="224.20" y2="93.80" stroke="#3aa97c" stroke-width="0.7" opacity="1"/>
<line x1="224.90" y1="87.00" x2="224.90" y2="93.80" stroke="#3aa97c" stroke-width="0.7" opacity="0.45"/>
<line x1="225.60" y1="87.00" x2="225.60" y2="93.80" stroke="#3aa97c" stroke-width="0.7" opacity="1"/>
<line x1="226.50" y1="87.00" x2="226.50" y2="93.80" stroke="#3aa97c" stroke-width="0.7" opacity="0.45"/>
<line x1="227.20" y1="87.00" x2="227.20" y2="93.80" stroke="#3aa97c" stroke-width="0.7" opacity="1"/>
<line x1="228.20" y1="87.00" x2="228.20" y2="93.80" stroke="#3aa97c" stroke-width="0.7" opacity="0.45"/>
<line x1="229.00" y1="87.00" x2="229.00" y2="93.80" stroke="#3aa97c" stroke-width="0.7" opacity="1"/>
<line x1="230.00" y1="87.00" x2="230.00" y2="93.80" stroke="#3aa97c" stroke-width="0.7" opacity="1"/>
<line x1="230.70" y1="87.00" x2="230.70" y2="93.80" stroke="#3aa97c" stroke-width="0.7" opacity="0.45"/>
<line x1="231.60" y1="87.00" x2="231.60" y2="93.80" stroke="#3aa97c" stroke-width="0.7" opacity="1"/>
<line x1="232.30" y1="87.00" x2="232.30" y2="93.80" stroke="#3aa97c" stroke-width="0.7" opacity="0.45"/>
<line x1="233.00" y1="87.00" x2="233.00" y2="93.80" stroke="#3aa97c" stroke-width="0.7" opacity="1"/>
<line x1="234.00" y1="87.00" x2="234.00" y2="93.80" stroke="#3aa97c" stroke-width="0.7" opacity="1"/>
<line x1="235.00" y1="87.00" x2="235.00" y2="93.80" stroke="#3aa97c" stroke-width="0.7" opacity="0.45"/>
<line x1="236.40" y1="87.00" x2="236.40" y2="93.80" stroke="#3aa97c" stroke-width="0.7" opacity="1"/>
<line x1="237.40" y1="87.00" x2="237.40" y2="93.80" stroke="#3aa97c" stroke-width="0.7" opacity="1"/>
<line x1="238.00" y1="87.00" x2="238.00" y2="93.80" stroke="#3aa97c" stroke-width="0.7" opacity="0.45"/>
<line x1="239.00" y1="87.00" x2="239.00" y2="93.80" stroke="#3aa97c" stroke-width="0.7" opacity="1"/>
<line x1="240.00" y1="87.00" x2="240.00" y2="93.80" stroke="#3aa97c" stroke-width="0.7" opacity="1"/>
<line x1="241.20" y1="87.00" x2="241.20" y2="93.80" stroke="#3aa97c" stroke-width="0.7" opacity="1"/>
<line x1="242.00" y1="87.00" x2="242.00" y2="93.80" stroke="#3aa97c" stroke-width="0.7" opacity="1"/>
<line x1="243.00" y1="87.00" x2="243.00" y2="93.80" stroke="#3aa97c" stroke-width="0.7" opacity="0.45"/>
<line x1="244.10" y1="87.00" x2="244.10" y2="93.80" stroke="#3aa97c" stroke-width="0.7" opacity="1"/>
<line x1="246.40" y1="87.00" x2="246.40" y2="93.80" stroke="#3aa97c" stroke-width="0.7" opacity="1"/>
<line x1="254.70" y1="87.00" x2="254.70" y2="93.80" stroke="#3aa97c" stroke-width="0.7" opacity="1"/>
<line x1="262.30" y1="87.00" x2="262.30" y2="93.80" stroke="#3aa97c" stroke-width="0.7" opacity="1"/>
<line x1="265.50" y1="87.00" x2="265.50" y2="93.80" stroke="#3aa97c" stroke-width="0.7" opacity="1"/>
<line x1="271.00" y1="87.00" x2="271.00" y2="93.80" stroke="#3aa97c" stroke-width="0.7" opacity="1"/>
<line x1="274.00" y1="87.00" x2="274.00" y2="93.80" stroke="#3aa97c" stroke-width="0.7" opacity="1"/>
<line x1="275.50" y1="87.00" x2="275.50" y2="93.80" stroke="#3aa97c" stroke-width="0.7" opacity="1"/>
<line x1="288.00" y1="87.00" x2="288.00" y2="93.80" stroke="#3aa97c" stroke-width="0.7" opacity="1"/>
<line x1="290.00" y1="87.00" x2="290.00" y2="93.80" stroke="#3aa97c" stroke-width="0.7" opacity="0.45"/>
<line x1="293.40" y1="87.00" x2="293.40" y2="93.80" stroke="#3aa97c" stroke-width="0.7" opacity="0.45"/>
<line x1="305.50" y1="87.00" x2="305.50" y2="93.80" stroke="#3aa97c" stroke-width="0.7" opacity="1"/>
<line x1="310.50" y1="87.00" x2="310.50" y2="93.80" stroke="#3aa97c" stroke-width="0.7" opacity="1"/>
<line x1="313.60" y1="87.00" x2="313.60" y2="93.80" stroke="#3aa97c" stroke-width="0.7" opacity="0.45"/>
<line x1="314.50" y1="87.00" x2="314.50" y2="93.80" stroke="#3aa97c" stroke-width="0.7" opacity="0.45"/>
<line x1="317.30" y1="87.00" x2="317.30" y2="93.80" stroke="#3aa97c" stroke-width="0.7" opacity="1"/>
<line x1="340.50" y1="87.00" x2="340.50" y2="93.80" stroke="#3aa97c" stroke-width="0.7" opacity="1"/>
<line x1="356.50" y1="87.00" x2="356.50" y2="93.80" stroke="#3aa97c" stroke-width="0.7" opacity="1"/>
<line x1="372.70" y1="87.00" x2="372.70" y2="93.80" stroke="#3aa97c" stroke-width="0.7" opacity="0.45"/>
<rect x="223.10" y="92.20" width="165.40" height="2.20" fill="url(#rg0)" stroke="none" stroke-width="0.6"/>
<rect x="223.10" y="86.70" width="165.40" height="8.10" fill="none" stroke="#bcbcbc" stroke-width="0.8"/>
<rect x="223.10" y="95.40" width="165.40" height="8.10" fill="#fff" stroke="none" stroke-width="0.6"/>
<line x1="224.50" y1="95.70" x2="224.50" y2="102.50" stroke="#d9483a" stroke-width="0.7" opacity="1"/>
<line x1="225.10" y1="95.70" x2="225.10" y2="102.50" stroke="#d9483a" stroke-width="0.7" opacity="0.45"/>
<line x1="228.00" y1="95.70" x2="228.00" y2="102.50" stroke="#d9483a" stroke-width="0.7" opacity="1"/>
<line x1="229.00" y1="95.70" x2="229.00" y2="102.50" stroke="#d9483a" stroke-width="0.7" opacity="0.45"/>
<line x1="229.70" y1="95.70" x2="229.70" y2="102.50" stroke="#d9483a" stroke-width="0.7" opacity="1"/>
<line x1="237.60" y1="95.70" x2="237.60" y2="102.50" stroke="#d9483a" stroke-width="0.7" opacity="1"/>
<line x1="238.20" y1="95.70" x2="238.20" y2="102.50" stroke="#d9483a" stroke-width="0.7" opacity="0.45"/>
<line x1="241.70" y1="95.70" x2="241.70" y2="102.50" stroke="#d9483a" stroke-width="0.7" opacity="1"/>
<line x1="245.00" y1="95.70" x2="245.00" y2="102.50" stroke="#d9483a" stroke-width="0.7" opacity="1"/>
<line x1="251.30" y1="95.70" x2="251.30" y2="102.50" stroke="#d9483a" stroke-width="0.7" opacity="0.45"/>
<line x1="260.00" y1="95.70" x2="260.00" y2="102.50" stroke="#d9483a" stroke-width="0.7" opacity="1"/>
<line x1="264.60" y1="95.70" x2="264.60" y2="102.50" stroke="#d9483a" stroke-width="0.7" opacity="1"/>
<line x1="271.50" y1="95.70" x2="271.50" y2="102.50" stroke="#d9483a" stroke-width="0.7" opacity="0.45"/>
<line x1="291.40" y1="95.70" x2="291.40" y2="102.50" stroke="#d9483a" stroke-width="0.7" opacity="1"/>
<line x1="304.20" y1="95.70" x2="304.20" y2="102.50" stroke="#d9483a" stroke-width="0.7" opacity="0.45"/>
<rect x="223.10" y="100.90" width="165.40" height="2.20" fill="url(#rg1)" stroke="none" stroke-width="0.6"/>
<rect x="223.10" y="95.40" width="165.40" height="8.10" fill="none" stroke="#bcbcbc" stroke-width="0.8"/>
<rect x="223.10" y="104.30" width="165.40" height="7.90" fill="#fff" stroke="none" stroke-width="0.6"/>
<line x1="224.30" y1="104.60" x2="224.30" y2="111.20" stroke="#3e4f98" stroke-width="0.7" opacity="0.45"/>
<line x1="225.30" y1="104.60" x2="225.30" y2="111.20" stroke="#3e4f98" stroke-width="0.7" opacity="1"/>
<line x1="228.60" y1="104.60" x2="228.60" y2="111.20" stroke="#3e4f98" stroke-width="0.7" opacity="0.45"/>
<line x1="230.00" y1="104.60" x2="230.00" y2="111.20" stroke="#3e4f98" stroke-width="0.7" opacity="1"/>
<line x1="231.50" y1="104.60" x2="231.50" y2="111.20" stroke="#3e4f98" stroke-width="0.7" opacity="1"/>
<line x1="232.70" y1="104.60" x2="232.70" y2="111.20" stroke="#3e4f98" stroke-width="0.7" opacity="0.45"/>
<line x1="234.00" y1="104.60" x2="234.00" y2="111.20" stroke="#3e4f98" stroke-width="0.7" opacity="1"/>
<line x1="235.20" y1="104.60" x2="235.20" y2="111.20" stroke="#3e4f98" stroke-width="0.7" opacity="1"/>
<line x1="236.60" y1="104.60" x2="236.60" y2="111.20" stroke="#3e4f98" stroke-width="0.7" opacity="0.45"/>
<line x1="237.80" y1="104.60" x2="237.80" y2="111.20" stroke="#3e4f98" stroke-width="0.7" opacity="1"/>
<line x1="239.00" y1="104.60" x2="239.00" y2="111.20" stroke="#3e4f98" stroke-width="0.7" opacity="1"/>
<line x1="240.20" y1="104.60" x2="240.20" y2="111.20" stroke="#3e4f98" stroke-width="0.7" opacity="0.45"/>
<line x1="241.40" y1="104.60" x2="241.40" y2="111.20" stroke="#3e4f98" stroke-width="0.7" opacity="1"/>
<line x1="242.80" y1="104.60" x2="242.80" y2="111.20" stroke="#3e4f98" stroke-width="0.7" opacity="1"/>
<line x1="244.00" y1="104.60" x2="244.00" y2="111.20" stroke="#3e4f98" stroke-width="0.7" opacity="0.45"/>
<line x1="245.50" y1="104.60" x2="245.50" y2="111.20" stroke="#3e4f98" stroke-width="0.7" opacity="1"/>
<line x1="247.00" y1="104.60" x2="247.00" y2="111.20" stroke="#3e4f98" stroke-width="0.7" opacity="1"/>
<line x1="248.30" y1="104.60" x2="248.30" y2="111.20" stroke="#3e4f98" stroke-width="0.7" opacity="0.45"/>
<line x1="250.00" y1="104.60" x2="250.00" y2="111.20" stroke="#3e4f98" stroke-width="0.7" opacity="1"/>
<line x1="251.60" y1="104.60" x2="251.60" y2="111.20" stroke="#3e4f98" stroke-width="0.7" opacity="1"/>
<line x1="253.00" y1="104.60" x2="253.00" y2="111.20" stroke="#3e4f98" stroke-width="0.7" opacity="0.45"/>
<line x1="254.50" y1="104.60" x2="254.50" y2="111.20" stroke="#3e4f98" stroke-width="0.7" opacity="1"/>
<line x1="256.30" y1="104.60" x2="256.30" y2="111.20" stroke="#3e4f98" stroke-width="0.7" opacity="0.45"/>
<line x1="258.00" y1="104.60" x2="258.00" y2="111.20" stroke="#3e4f98" stroke-width="0.7" opacity="1"/>
<line x1="259.70" y1="104.60" x2="259.70" y2="111.20" stroke="#3e4f98" stroke-width="0.7" opacity="1"/>
<line x1="261.50" y1="104.60" x2="261.50" y2="111.20" stroke="#3e4f98" stroke-width="0.7" opacity="0.45"/>
<line x1="262.30" y1="104.60" x2="262.30" y2="111.20" stroke="#3e4f98" stroke-width="0.7" opacity="1"/>
<line x1="270.00" y1="104.60" x2="270.00" y2="111.20" stroke="#3e4f98" stroke-width="0.7" opacity="1"/>
<line x1="271.00" y1="104.60" x2="271.00" y2="111.20" stroke="#3e4f98" stroke-width="0.7" opacity="0.45"/>
<line x1="272.00" y1="104.60" x2="272.00" y2="111.20" stroke="#3e4f98" stroke-width="0.7" opacity="0.45"/>
<line x1="273.30" y1="104.60" x2="273.30" y2="111.20" stroke="#3e4f98" stroke-width="0.7" opacity="1"/>
<line x1="280.50" y1="104.60" x2="280.50" y2="111.20" stroke="#3e4f98" stroke-width="0.7" opacity="1"/>
<line x1="281.50" y1="104.60" x2="281.50" y2="111.20" stroke="#3e4f98" stroke-width="0.7" opacity="0.45"/>
<line x1="283.00" y1="104.60" x2="283.00" y2="111.20" stroke="#3e4f98" stroke-width="0.7" opacity="1"/>
<line x1="290.00" y1="104.60" x2="290.00" y2="111.20" stroke="#3e4f98" stroke-width="0.7" opacity="1"/>
<line x1="300.50" y1="104.60" x2="300.50" y2="111.20" stroke="#3e4f98" stroke-width="0.7" opacity="1"/>
<line x1="304.50" y1="104.60" x2="304.50" y2="111.20" stroke="#3e4f98" stroke-width="0.7" opacity="1"/>
<line x1="310.50" y1="104.60" x2="310.50" y2="111.20" stroke="#3e4f98" stroke-width="0.7" opacity="1"/>
<line x1="319.50" y1="104.60" x2="319.50" y2="111.20" stroke="#3e4f98" stroke-width="0.7" opacity="1"/>
<line x1="331.50" y1="104.60" x2="331.50" y2="111.20" stroke="#3e4f98" stroke-width="0.7" opacity="0.45"/>
<line x1="332.50" y1="104.60" x2="332.50" y2="111.20" stroke="#3e4f98" stroke-width="0.7" opacity="1"/>
<line x1="338.50" y1="104.60" x2="338.50" y2="111.20" stroke="#3e4f98" stroke-width="0.7" opacity="1"/>
<line x1="340.50" y1="104.60" x2="340.50" y2="111.20" stroke="#3e4f98" stroke-width="0.7" opacity="1"/>
<line x1="355.50" y1="104.60" x2="355.50" y2="111.20" stroke="#3e4f98" stroke-width="0.7" opacity="1"/>
<line x1="386.50" y1="104.60" x2="386.50" y2="111.20" stroke="#3e4f98" stroke-width="0.7" opacity="0.45"/>
<rect x="223.10" y="109.60" width="165.40" height="2.20" fill="url(#rg2)" stroke="none" stroke-width="0.6"/>
<rect x="223.10" y="104.30" width="165.40" height="7.90" fill="none" stroke="#bcbcbc" stroke-width="0.8"/>
<rect x="223.10" y="112.80" width="165.40" height="8.00" fill="#fff" stroke="none" stroke-width="0.6"/>
<line x1="224.00" y1="113.10" x2="224.00" y2="119.80" stroke="#4fbccc" stroke-width="0.7" opacity="1"/>
<line x1="224.80" y1="113.10" x2="224.80" y2="119.80" stroke="#4fbccc" stroke-width="0.7" opacity="0.45"/>
<line x1="225.60" y1="113.10" x2="225.60" y2="119.80" stroke="#4fbccc" stroke-width="0.7" opacity="1"/>
<line x1="226.40" y1="113.10" x2="226.40" y2="119.80" stroke="#4fbccc" stroke-width="0.7" opacity="0.45"/>
<line x1="227.20" y1="113.10" x2="227.20" y2="119.80" stroke="#4fbccc" stroke-width="0.7" opacity="1"/>
<line x1="228.10" y1="113.10" x2="228.10" y2="119.80" stroke="#4fbccc" stroke-width="0.7" opacity="0.45"/>
<line x1="229.00" y1="113.10" x2="229.00" y2="119.80" stroke="#4fbccc" stroke-width="0.7" opacity="1"/>
<line x1="232.00" y1="113.10" x2="232.00" y2="119.80" stroke="#4fbccc" stroke-width="0.7" opacity="0.45"/>
<line x1="233.00" y1="113.10" x2="233.00" y2="119.80" stroke="#4fbccc" stroke-width="0.7" opacity="1"/>
<line x1="236.50" y1="113.10" x2="236.50" y2="119.80" stroke="#4fbccc" stroke-width="0.7" opacity="1"/>
<line x1="237.30" y1="113.10" x2="237.30" y2="119.80" stroke="#4fbccc" stroke-width="0.7" opacity="0.45"/>
<line x1="238.20" y1="113.10" x2="238.20" y2="119.80" stroke="#4fbccc" stroke-width="0.7" opacity="1"/>
<line x1="239.00" y1="113.10" x2="239.00" y2="119.80" stroke="#4fbccc" stroke-width="0.7" opacity="0.45"/>
<line x1="245.30" y1="113.10" x2="245.30" y2="119.80" stroke="#4fbccc" stroke-width="0.7" opacity="1"/>
<line x1="249.80" y1="113.10" x2="249.80" y2="119.80" stroke="#4fbccc" stroke-width="0.7" opacity="1"/>
<line x1="264.70" y1="113.10" x2="264.70" y2="119.80" stroke="#4fbccc" stroke-width="0.7" opacity="1"/>
<line x1="273.00" y1="113.10" x2="273.00" y2="119.80" stroke="#4fbccc" stroke-width="0.7" opacity="1"/>
<line x1="279.00" y1="113.10" x2="279.00" y2="119.80" stroke="#4fbccc" stroke-width="0.7" opacity="1"/>
<line x1="292.70" y1="113.10" x2="292.70" y2="119.80" stroke="#4fbccc" stroke-width="0.7" opacity="1"/>
<line x1="298.50" y1="113.10" x2="298.50" y2="119.80" stroke="#4fbccc" stroke-width="0.7" opacity="0.45"/>
<line x1="299.50" y1="113.10" x2="299.50" y2="119.80" stroke="#4fbccc" stroke-width="0.7" opacity="0.45"/>
<line x1="300.50" y1="113.10" x2="300.50" y2="119.80" stroke="#4fbccc" stroke-width="0.7" opacity="1"/>
<line x1="301.00" y1="113.10" x2="301.00" y2="119.80" stroke="#4fbccc" stroke-width="0.7" opacity="1"/>
<line x1="315.50" y1="113.10" x2="315.50" y2="119.80" stroke="#4fbccc" stroke-width="0.7" opacity="1"/>
<line x1="325.50" y1="113.10" x2="325.50" y2="119.80" stroke="#4fbccc" stroke-width="0.7" opacity="1"/>
<line x1="333.00" y1="113.10" x2="333.00" y2="119.80" stroke="#4fbccc" stroke-width="0.7" opacity="1"/>
<line x1="338.50" y1="113.10" x2="338.50" y2="119.80" stroke="#4fbccc" stroke-width="0.7" opacity="1"/>
<line x1="341.50" y1="113.10" x2="341.50" y2="119.80" stroke="#4fbccc" stroke-width="0.7" opacity="0.45"/>
<line x1="351.50" y1="113.10" x2="351.50" y2="119.80" stroke="#4fbccc" stroke-width="0.7" opacity="0.45"/>
<line x1="353.50" y1="113.10" x2="353.50" y2="119.80" stroke="#4fbccc" stroke-width="0.7" opacity="0.45"/>
<line x1="362.50" y1="113.10" x2="362.50" y2="119.80" stroke="#4fbccc" stroke-width="0.7" opacity="1"/>
<line x1="369.50" y1="113.10" x2="369.50" y2="119.80" stroke="#4fbccc" stroke-width="0.7" opacity="1"/>
<rect x="223.10" y="118.20" width="165.40" height="2.20" fill="url(#rg3)" stroke="none" stroke-width="0.6"/>
<rect x="223.10" y="112.80" width="165.40" height="8.00" fill="none" stroke="#bcbcbc" stroke-width="0.8"/>
<rect x="223.10" y="122.40" width="165.40" height="50.40" fill="#fff" stroke="none" stroke-width="0.6"/>
<defs><linearGradient id="bl" x1="0" x2="1" y1="0" y2="0"><stop offset="0" stop-color="#eef0f8"/><stop offset="1" stop-color="#b4c0e0"/></linearGradient></defs>
<path d="M366 135 Q381 136.5 388.2 144.5 L388.2 135 Z" fill="url(#bl)"/>
<line x1="388.00" y1="135.00" x2="388.00" y2="172.80" stroke="#34458f" stroke-width="1.0"/>
<path d="M223.4 122.8 L224 134.4 Q226 131 232 133.5" fill="none" stroke="#f0c0b8" stroke-width="0.4"/>
<line x1="223.10" y1="135.00" x2="388.50" y2="135.00" stroke="#c6c6c6" stroke-width="0.9" stroke-dasharray="2.2,2.4"/>
<rect x="223.10" y="122.40" width="165.40" height="50.40" fill="none" stroke="#bcbcbc" stroke-width="0.9"/>
<line x1="221.40" y1="122.40" x2="223.10" y2="122.40" stroke="#555" stroke-width="0.5"/>
<text x="220.90" y="122.40" font-size="5.9" text-anchor="end" fill="#4d4d4d" stroke="#4d4d4d" stroke-width="0.16" dominant-baseline="central">10</text>
<line x1="221.40" y1="135.00" x2="223.10" y2="135.00" stroke="#555" stroke-width="0.5"/>
<text x="220.90" y="135.00" font-size="5.9" text-anchor="end" fill="#4d4d4d" stroke="#4d4d4d" stroke-width="0.16" dominant-baseline="central">0</text>
<line x1="221.40" y1="147.70" x2="223.10" y2="147.70" stroke="#555" stroke-width="0.5"/>
<text x="220.90" y="147.70" font-size="5.9" text-anchor="end" fill="#4d4d4d" stroke="#4d4d4d" stroke-width="0.16" dominant-baseline="central">−10</text>
<line x1="221.40" y1="160.40" x2="223.10" y2="160.40" stroke="#555" stroke-width="0.5"/>
<text x="220.90" y="160.40" font-size="5.9" text-anchor="end" fill="#4d4d4d" stroke="#4d4d4d" stroke-width="0.16" dominant-baseline="central">−20</text>
<text x="204.70" y="137.50" font-size="7" text-anchor="middle" fill="#000" stroke="#000" stroke-width="0.16" dominant-baseline="central" transform="rotate(-90 204.7 137.5)">Ranked List</text>
<line x1="266.60" y1="172.80" x2="266.60" y2="174.40" stroke="#555" stroke-width="0.5"/>
<text x="266.60" y="177.40" font-size="5.6" text-anchor="middle" fill="#4d4d4d" stroke="#4d4d4d" stroke-width="0.16" dominant-baseline="central">5000</text>
<line x1="310.60" y1="172.80" x2="310.60" y2="174.40" stroke="#555" stroke-width="0.5"/>
<text x="310.60" y="177.40" font-size="5.6" text-anchor="middle" fill="#4d4d4d" stroke="#4d4d4d" stroke-width="0.16" dominant-baseline="central">10000</text>
<line x1="354.60" y1="172.80" x2="354.60" y2="174.40" stroke="#555" stroke-width="0.5"/>
<text x="354.60" y="177.40" font-size="5.6" text-anchor="middle" fill="#4d4d4d" stroke="#4d4d4d" stroke-width="0.16" dominant-baseline="central">15000</text>
<text x="314.00" y="186.00" font-size="6.9" text-anchor="middle" fill="#000" stroke="#000" stroke-width="0.16" dominant-baseline="central">Rank in Ordered Dataset</text>
<rect x="329.60" y="146.30" width="8.30" height="3.80" fill="#d6d6d6" stroke="none" stroke-width="0.6"/>
<rect x="338.50" y="146.30" width="13.20" height="3.80" fill="#d6d6d6" stroke="none" stroke-width="0.6"/>
<rect x="352.30" y="146.30" width="25.30" height="3.80" fill="#d6d6d6" stroke="none" stroke-width="0.6"/>
<rect x="329.60" y="150.50" width="8.30" height="4.10" fill="#eeeeee" stroke="none" stroke-width="0.6"/>
<rect x="338.50" y="150.50" width="13.20" height="4.10" fill="#eeeeee" stroke="none" stroke-width="0.6"/>
<rect x="352.30" y="150.50" width="25.30" height="4.10" fill="#eeeeee" stroke="none" stroke-width="0.6"/>
<rect x="329.60" y="155.00" width="8.30" height="4.20" fill="#e2e2e2" stroke="none" stroke-width="0.6"/>
<rect x="338.50" y="155.00" width="13.20" height="4.20" fill="#e2e2e2" stroke="none" stroke-width="0.6"/>
<rect x="352.30" y="155.00" width="25.30" height="4.20" fill="#e2e2e2" stroke="none" stroke-width="0.6"/>
<rect x="329.60" y="159.60" width="8.30" height="4.10" fill="#eeeeee" stroke="none" stroke-width="0.6"/>
<rect x="338.50" y="159.60" width="13.20" height="4.10" fill="#eeeeee" stroke="none" stroke-width="0.6"/>
<rect x="352.30" y="159.60" width="25.30" height="4.10" fill="#eeeeee" stroke="none" stroke-width="0.6"/>
<rect x="329.60" y="164.10" width="8.30" height="4.20" fill="#e2e2e2" stroke="none" stroke-width="0.6"/>
<rect x="338.50" y="164.10" width="13.20" height="4.20" fill="#e2e2e2" stroke="none" stroke-width="0.6"/>
<rect x="352.30" y="164.10" width="25.30" height="4.20" fill="#e2e2e2" stroke="none" stroke-width="0.6"/>
<text x="333.75" y="148.20" font-size="2.9" text-anchor="middle" fill="#222" dominant-baseline="central" font-weight="bold">NES</text>
<text x="333.75" y="152.55" font-size="2.9" text-anchor="middle" fill="#222" dominant-baseline="central">2.02</text>
<text x="333.75" y="157.10" font-size="2.9" text-anchor="middle" fill="#222" dominant-baseline="central">2.07</text>
<text x="333.75" y="161.65" font-size="2.9" text-anchor="middle" fill="#222" dominant-baseline="central">2.01</text>
<text x="333.75" y="166.20" font-size="2.9" text-anchor="middle" fill="#222" dominant-baseline="central">2.06</text>
<text x="345.10" y="148.20" font-size="2.9" text-anchor="middle" fill="#222" dominant-baseline="central" font-weight="bold">Pvalue</text>
<text x="345.10" y="152.55" font-size="2.9" text-anchor="middle" fill="#222" dominant-baseline="central">&lt; 0.001</text>
<text x="345.10" y="157.10" font-size="2.9" text-anchor="middle" fill="#222" dominant-baseline="central">&lt; 0.001</text>
<text x="345.10" y="161.65" font-size="2.9" text-anchor="middle" fill="#222" dominant-baseline="central">&lt; 0.001</text>
<text x="345.10" y="166.20" font-size="2.9" text-anchor="middle" fill="#222" dominant-baseline="central">&lt; 0.001</text>
<text x="364.95" y="148.20" font-size="2.9" text-anchor="middle" fill="#222" dominant-baseline="central" font-weight="bold">Adjusted P value</text>
<text x="364.95" y="152.55" font-size="2.9" text-anchor="middle" fill="#222" dominant-baseline="central">&lt; 0.001</text>
<text x="364.95" y="157.10" font-size="2.9" text-anchor="middle" fill="#222" dominant-baseline="central">&lt; 0.001</text>
<text x="364.95" y="161.65" font-size="2.9" text-anchor="middle" fill="#222" dominant-baseline="central">&lt; 0.001</text>
<text x="364.95" y="166.20" font-size="2.9" text-anchor="middle" fill="#222" dominant-baseline="central">&lt; 0.001</text>
<text x="395.30" y="6.80" font-size="9.5" text-anchor="start" fill="#000" dominant-baseline="central" font-weight="bold">c</text>
<line x1="423.00" y1="12.40" x2="423.00" y2="170.50" stroke="#9a9a9a" stroke-width="1.0"/>
<line x1="422.50" y1="170.50" x2="523.00" y2="170.50" stroke="#555" stroke-width="0.9"/>
<line x1="421.20" y1="156.50" x2="423.00" y2="156.50" stroke="#555" stroke-width="0.5"/>
<text x="420.60" y="156.50" font-size="6.1" text-anchor="end" fill="#222" stroke="#222" stroke-width="0.16" dominant-baseline="central">0.04</text>
<line x1="421.20" y1="112.00" x2="423.00" y2="112.00" stroke="#555" stroke-width="0.5"/>
<text x="420.60" y="112.00" font-size="6.1" text-anchor="end" fill="#222" stroke="#222" stroke-width="0.16" dominant-baseline="central">0.08</text>
<line x1="421.20" y1="67.50" x2="423.00" y2="67.50" stroke="#555" stroke-width="0.5"/>
<text x="420.60" y="67.50" font-size="6.1" text-anchor="end" fill="#222" stroke="#222" stroke-width="0.16" dominant-baseline="central">0.12</text>
<line x1="421.20" y1="23.00" x2="423.00" y2="23.00" stroke="#555" stroke-width="0.5"/>
<text x="420.60" y="23.00" font-size="6.1" text-anchor="end" fill="#222" stroke="#222" stroke-width="0.16" dominant-baseline="central">0.16</text>
<line x1="450.50" y1="170.50" x2="450.50" y2="172.10" stroke="#555" stroke-width="0.5"/>
<line x1="495.50" y1="170.50" x2="495.50" y2="172.10" stroke="#555" stroke-width="0.5"/>
<text x="451.00" y="176.10" font-size="5.8" text-anchor="middle" fill="#111" stroke="#111" stroke-width="0.16" dominant-baseline="central">pretreatment</text>
<text x="503.40" y="176.10" font-size="5.8" text-anchor="middle" fill="#111" stroke="#111" stroke-width="0.16" dominant-baseline="central">posttreatment</text>
<text x="405.30" y="88.00" font-size="6.9" text-anchor="middle" fill="#000" stroke="#000" stroke-width="0.16" dominant-baseline="central" transform="rotate(-90 405.3 88.0)">TCR clonality</text>
<text x="440.60" y="18.30" font-size="5.55" text-anchor="start" fill="#222" stroke="#222" stroke-width="0.16" dominant-baseline="central">Wilcoxon, p = 0.051</text>
<line x1="450.50" y1="122.00" x2="450.50" y2="128.30" stroke="#3b5559" stroke-width="0.7"/>
<line x1="450.50" y1="141.20" x2="450.50" y2="149.70" stroke="#3b5559" stroke-width="0.7"/>
<rect x="434.30" y="128.30" width="32.40" height="12.90" fill="none" stroke="#3b5559" stroke-width="0.7"/>
<line x1="434.30" y1="133.50" x2="466.70" y2="133.50" stroke="#3b5559" stroke-width="0.7"/>
<circle cx="446.30" cy="126.90" r="1.3" fill="#3b5559"/>
<circle cx="453.60" cy="124.50" r="1.3" fill="#3b5559"/>
<circle cx="458.60" cy="121.70" r="1.3" fill="#3b5559"/>
<circle cx="451.60" cy="129.30" r="1.3" fill="#3b5559"/>
<circle cx="457.80" cy="130.40" r="1.3" fill="#3b5559"/>
<circle cx="451.20" cy="133.50" r="1.3" fill="#3b5559"/>
<circle cx="457.20" cy="136.70" r="1.3" fill="#3b5559"/>
<circle cx="457.60" cy="139.30" r="1.3" fill="#3b5559"/>
<circle cx="450.80" cy="143.50" r="1.3" fill="#3b5559"/>
<circle cx="455.50" cy="149.70" r="1.3" fill="#3b5559"/>
<circle cx="448.60" cy="163.40" r="1.3" fill="#3b5559"/>
<line x1="495.50" y1="19.70" x2="495.50" y2="87.30" stroke="#e3a36c" stroke-width="0.7"/>
<line x1="495.50" y1="133.60" x2="495.50" y2="150.10" stroke="#e3a36c" stroke-width="0.7"/>
<rect x="479.70" y="87.30" width="32.10" height="46.30" fill="none" stroke="#e3a36c" stroke-width="0.7"/>
<line x1="479.70" y1="102.30" x2="511.80" y2="102.30" stroke="#e3a36c" stroke-width="0.7"/>
<circle cx="492.60" cy="19.30" r="1.3" fill="#d5843e"/>
<circle cx="494.90" cy="88.00" r="1.3" fill="#d5843e"/>
<circle cx="503.90" cy="85.90" r="1.3" fill="#d5843e"/>
<circle cx="503.20" cy="87.20" r="1.3" fill="#d5843e"/>
<circle cx="491.20" cy="92.50" r="1.3" fill="#d5843e"/>
<circle cx="487.60" cy="111.90" r="1.3" fill="#d5843e"/>
<circle cx="494.90" cy="130.20" r="1.3" fill="#d5843e"/>
<circle cx="487.40" cy="135.00" r="1.3" fill="#d5843e"/>
<circle cx="488.60" cy="138.50" r="1.3" fill="#d5843e"/>
<circle cx="503.90" cy="150.20" r="1.3" fill="#d5843e"/>
<text x="535.00" y="7.60" font-size="9.5" text-anchor="start" fill="#000" dominant-baseline="central" font-weight="bold">d</text>
<line x1="586.50" y1="8.70" x2="586.50" y2="170.20" stroke="#333" stroke-width="0.9"/>
<line x1="586.05" y1="170.20" x2="674.60" y2="170.20" stroke="#333" stroke-width="0.9"/>
<line x1="583.90" y1="165.40" x2="586.50" y2="165.40" stroke="#333" stroke-width="0.5"/>
<text x="581.50" y="165.40" font-size="5.8" text-anchor="end" fill="#222" stroke="#222" stroke-width="0.16" dominant-baseline="central">0.000000</text>
<line x1="583.90" y1="134.40" x2="586.50" y2="134.40" stroke="#333" stroke-width="0.5"/>
<text x="581.50" y="134.40" font-size="5.8" text-anchor="end" fill="#222" stroke="#222" stroke-width="0.16" dominant-baseline="central">0.000025</text>
<line x1="583.90" y1="103.40" x2="586.50" y2="103.40" stroke="#333" stroke-width="0.5"/>
<text x="581.50" y="103.40" font-size="5.8" text-anchor="end" fill="#222" stroke="#222" stroke-width="0.16" dominant-baseline="central">0.000050</text>
<line x1="583.90" y1="72.40" x2="586.50" y2="72.40" stroke="#333" stroke-width="0.5"/>
<text x="581.50" y="72.40" font-size="5.8" text-anchor="end" fill="#222" stroke="#222" stroke-width="0.16" dominant-baseline="central">0.000075</text>
<line x1="583.90" y1="41.40" x2="586.50" y2="41.40" stroke="#333" stroke-width="0.5"/>
<text x="581.50" y="41.40" font-size="5.8" text-anchor="end" fill="#222" stroke="#222" stroke-width="0.16" dominant-baseline="central">0.000100</text>
<line x1="583.90" y1="10.40" x2="586.50" y2="10.40" stroke="#333" stroke-width="0.5"/>
<text x="581.50" y="10.40" font-size="5.8" text-anchor="end" fill="#222" stroke="#222" stroke-width="0.16" dominant-baseline="central">0.000125</text>
<line x1="610.40" y1="170.20" x2="610.40" y2="171.80" stroke="#333" stroke-width="0.5"/>
<line x1="650.80" y1="170.20" x2="650.80" y2="171.80" stroke="#333" stroke-width="0.5"/>
<text x="603.60" y="176.80" font-size="5.8" text-anchor="middle" fill="#222" stroke="#222" stroke-width="0.16" dominant-baseline="central">pretreatment</text>
<text x="655.70" y="176.80" font-size="5.8" text-anchor="middle" fill="#222" stroke="#222" stroke-width="0.16" dominant-baseline="central">posttreatment</text>
<text x="548.60" y="87.00" font-size="6.8" text-anchor="middle" fill="#000" stroke="#000" stroke-width="0.16" dominant-baseline="central" transform="rotate(-90 548.6 87)">Fraction of TCR reads</text>
<text x="600.30" y="13.90" font-size="5.55" text-anchor="start" fill="#222" stroke="#222" stroke-width="0.16" dominant-baseline="central">Wilcoxon, p = 0.029</text>
<line x1="610.40" y1="148.00" x2="610.40" y2="151.10" stroke="#3b5559" stroke-width="0.7"/>
<line x1="610.40" y1="160.90" x2="610.40" y2="163.50" stroke="#3b5559" stroke-width="0.7"/>
<rect x="596.30" y="151.10" width="28.30" height="9.80" fill="none" stroke="#3b5559" stroke-width="0.7"/>
<line x1="596.30" y1="155.70" x2="624.60" y2="155.70" stroke="#8fa4a6" stroke-width="0.7"/>
<circle cx="606.40" cy="148.60" r="1.3" fill="#3b5559"/>
<circle cx="603.00" cy="153.00" r="1.3" fill="#3b5559"/>
<circle cx="611.20" cy="150.60" r="1.3" fill="#3b5559"/>
<circle cx="617.50" cy="150.30" r="1.3" fill="#3b5559"/>
<circle cx="615.10" cy="155.70" r="1.3" fill="#3b5559"/>
<circle cx="604.00" cy="158.20" r="1.3" fill="#3b5559"/>
<circle cx="606.90" cy="161.70" r="1.3" fill="#3b5559"/>
<circle cx="613.20" cy="162.00" r="1.3" fill="#3b5559"/>
<circle cx="616.90" cy="159.80" r="1.3" fill="#3b5559"/>
<circle cx="616.70" cy="163.00" r="1.3" fill="#3b5559"/>
<line x1="650.60" y1="76.80" x2="650.60" y2="119.30" stroke="#e3a36c" stroke-width="0.7"/>
<line x1="650.60" y1="156.50" x2="650.60" y2="158.00" stroke="#e3a36c" stroke-width="0.7"/>
<rect x="636.50" y="119.30" width="28.20" height="37.20" fill="none" stroke="#e3a36c" stroke-width="0.7"/>
<line x1="636.50" y1="143.20" x2="664.70" y2="143.20" stroke="#e3a36c" stroke-width="0.7"/>
<circle cx="656.90" cy="15.70" r="1.3" fill="#d5843e"/>
<circle cx="656.60" cy="76.80" r="1.3" fill="#d5843e"/>
<circle cx="647.70" cy="115.30" r="1.3" fill="#d5843e"/>
<circle cx="643.30" cy="131.20" r="1.3" fill="#d5843e"/>
<circle cx="650.10" cy="141.10" r="1.3" fill="#d5843e"/>
<circle cx="657.10" cy="145.40" r="1.3" fill="#d5843e"/>
<circle cx="649.10" cy="155.10" r="1.3" fill="#d5843e"/>
<circle cx="650.10" cy="158.20" r="1.3" fill="#d5843e"/>
<circle cx="651.50" cy="157.40" r="1.3" fill="#d5843e"/>
<circle cx="657.80" cy="157.00" r="1.3" fill="#d5843e"/>
<text x="4.80" y="209.60" font-size="9.5" text-anchor="start" fill="#000" dominant-baseline="central" font-weight="bold">e</text>
<line x1="19.40" y1="245.20" x2="19.40" y2="341.20" stroke="#8a8a8a" stroke-width="0.9"/>
<line x1="18.95" y1="341.20" x2="203.30" y2="341.20" stroke="#8a8a8a" stroke-width="0.9"/>
<line x1="17.60" y1="330.60" x2="19.40" y2="330.60" stroke="#666" stroke-width="0.5"/>
<text x="16.90" y="330.60" font-size="6.2" text-anchor="end" fill="#222" stroke="#222" stroke-width="0.16" dominant-baseline="central">0.0</text>
<line x1="17.60" y1="307.60" x2="19.40" y2="307.60" stroke="#666" stroke-width="0.5"/>
<text x="16.90" y="307.60" font-size="6.2" text-anchor="end" fill="#222" stroke="#222" stroke-width="0.16" dominant-baseline="central">2.5</text>
<line x1="17.60" y1="284.60" x2="19.40" y2="284.60" stroke="#666" stroke-width="0.5"/>
<text x="16.90" y="284.60" font-size="6.2" text-anchor="end" fill="#222" stroke="#222" stroke-width="0.16" dominant-baseline="central">5.0</text>
<line x1="17.60" y1="261.60" x2="19.40" y2="261.60" stroke="#666" stroke-width="0.5"/>
<text x="16.90" y="261.60" font-size="6.2" text-anchor="end" fill="#222" stroke="#222" stroke-width="0.16" dominant-baseline="central">7.5</text>
<text x="4.60" y="288.00" font-size="7" text-anchor="middle" fill="#000" stroke="#000" stroke-width="0.16" dominant-baseline="central" transform="rotate(-90 4.6 288)">Expression</text>
<line x1="45.50" y1="341.20" x2="45.50" y2="342.80" stroke="#666" stroke-width="0.5"/>
<text x="48.90" y="345.00" font-size="5.6" text-anchor="end" fill="#222" stroke="#222" stroke-width="0.16" dominant-baseline="central" transform="rotate(-45 48.9 345.0)">ASCL1</text>
<line x1="89.30" y1="341.20" x2="89.30" y2="342.80" stroke="#666" stroke-width="0.5"/>
<text x="92.70" y="345.00" font-size="5.6" text-anchor="end" fill="#222" stroke="#222" stroke-width="0.16" dominant-baseline="central" transform="rotate(-45 92.7 345.0)">NEUROD1</text>
<line x1="133.20" y1="341.20" x2="133.20" y2="342.80" stroke="#666" stroke-width="0.5"/>
<text x="136.60" y="345.00" font-size="5.6" text-anchor="end" fill="#222" stroke="#222" stroke-width="0.16" dominant-baseline="central" transform="rotate(-45 136.6 345.0)">POU2F3</text>
<line x1="177.50" y1="341.20" x2="177.50" y2="342.80" stroke="#666" stroke-width="0.5"/>
<text x="180.90" y="345.00" font-size="5.6" text-anchor="end" fill="#222" stroke="#222" stroke-width="0.16" dominant-baseline="central" transform="rotate(-45 180.9 345.0)">YAP1</text>
<text x="46.10" y="248.00" font-size="5.6" text-anchor="middle" fill="#222" stroke="#222" stroke-width="0.16" dominant-baseline="central">ns</text>
<text x="89.90" y="247.30" font-size="5.6" text-anchor="middle" fill="#222" stroke="#222" stroke-width="0.16" dominant-baseline="central">**</text>
<text x="133.50" y="247.60" font-size="5.6" text-anchor="middle" fill="#222" stroke="#222" stroke-width="0.16" dominant-baseline="central">ns</text>
<text x="177.80" y="247.50" font-size="5.6" text-anchor="middle" fill="#222" stroke="#222" stroke-width="0.16" dominant-baseline="central">**</text>
<line x1="36.50" y1="252.30" x2="36.50" y2="259.70" stroke="#3b5559" stroke-width="0.9"/>
<line x1="36.50" y1="298.40" x2="36.50" y2="306.50" stroke="#3b5559" stroke-width="0.9"/>
<rect x="28.90" y="259.70" width="15.60" height="38.70" fill="none" stroke="#3b5559" stroke-width="0.9"/>
<line x1="28.90" y1="279.40" x2="44.50" y2="279.40" stroke="#3b5559" stroke-width="0.9"/>
<circle cx="36.50" cy="252.90" r="1.22" fill="#3b5559"/>
<circle cx="36.30" cy="254.10" r="1.22" fill="#3b5559"/>
<circle cx="39.10" cy="258.50" r="1.22" fill="#3b5559"/>
<circle cx="33.00" cy="261.50" r="1.22" fill="#3b5559"/>
<circle cx="40.00" cy="274.20" r="1.22" fill="#3b5559"/>
<circle cx="36.00" cy="279.60" r="1.22" fill="#3b5559"/>
<circle cx="35.70" cy="286.40" r="1.22" fill="#3b5559"/>
<circle cx="37.90" cy="294.10" r="1.22" fill="#3b5559"/>
<circle cx="36.00" cy="302.10" r="1.22" fill="#3b5559"/>
<circle cx="35.40" cy="305.80" r="1.22" fill="#3b5559"/>
<circle cx="35.90" cy="306.40" r="1.22" fill="#3b5559"/>
<line x1="54.50" y1="249.20" x2="54.50" y2="269.30" stroke="#e3a36c" stroke-width="0.9"/>
<line x1="54.50" y1="319.30" x2="54.50" y2="336.70" stroke="#e3a36c" stroke-width="0.9"/>
<rect x="46.50" y="269.30" width="16.20" height="50.00" fill="none" stroke="#e3a36c" stroke-width="0.9"/>
<line x1="46.50" y1="313.30" x2="62.70" y2="313.30" stroke="#e3a36c" stroke-width="0.9"/>
<circle cx="57.80" cy="249.20" r="1.22" fill="#d5843e"/>
<circle cx="50.20" cy="255.40" r="1.22" fill="#d5843e"/>
<circle cx="56.00" cy="264.60" r="1.22" fill="#d5843e"/>
<circle cx="50.20" cy="271.40" r="1.22" fill="#d5843e"/>
<circle cx="57.80" cy="283.00" r="1.22" fill="#d5843e"/>
<circle cx="52.90" cy="310.10" r="1.22" fill="#d5843e"/>
<circle cx="58.10" cy="316.60" r="1.22" fill="#d5843e"/>
<circle cx="57.80" cy="317.80" r="1.22" fill="#d5843e"/>
<circle cx="56.00" cy="322.80" r="1.22" fill="#d5843e"/>
<circle cx="58.10" cy="328.00" r="1.22" fill="#d5843e"/>
<circle cx="52.00" cy="336.70" r="1.22" fill="#d5843e"/>
<line x1="80.50" y1="268.00" x2="80.50" y2="289.20" stroke="#3b5559" stroke-width="0.9"/>
<line x1="80.50" y1="305.30" x2="80.50" y2="326.30" stroke="#3b5559" stroke-width="0.9"/>
<rect x="72.30" y="289.20" width="16.40" height="16.10" fill="none" stroke="#3b5559" stroke-width="0.9"/>
<line x1="72.30" y1="300.60" x2="88.70" y2="300.60" stroke="#3b5559" stroke-width="0.9"/>
<circle cx="84.00" cy="267.30" r="1.22" fill="#3b5559"/>
<circle cx="82.80" cy="268.90" r="1.22" fill="#3b5559"/>
<circle cx="77.20" cy="285.50" r="1.22" fill="#3b5559"/>
<circle cx="78.10" cy="293.80" r="1.22" fill="#3b5559"/>
<circle cx="82.10" cy="299.70" r="1.22" fill="#3b5559"/>
<circle cx="81.20" cy="301.50" r="1.22" fill="#3b5559"/>
<circle cx="77.50" cy="304.80" r="1.22" fill="#3b5559"/>
<circle cx="81.50" cy="305.50" r="1.22" fill="#3b5559"/>
<circle cx="76.40" cy="326.30" r="1.22" fill="#3b5559"/>
<circle cx="85.00" cy="330.60" r="1.22" fill="#3b5559"/>
<line x1="90.10" y1="330.60" x2="106.10" y2="330.60" stroke="#e3a36c" stroke-width="0.9"/>
<line x1="93.50" y1="330.60" x2="102.50" y2="330.60" stroke="#d5843e" stroke-width="1.9"/>
<circle cx="97.90" cy="285.80" r="1.22" fill="#d5843e"/>
<circle cx="96.00" cy="317.30" r="1.22" fill="#d5843e"/>
<line x1="124.40" y1="315.20" x2="124.40" y2="315.20" stroke="#3b5559" stroke-width="0.9"/>
<line x1="124.40" y1="326.40" x2="124.40" y2="331.30" stroke="#3b5559" stroke-width="0.9"/>
<rect x="116.30" y="315.20" width="16.20" height="11.20" fill="none" stroke="#3b5559" stroke-width="0.9"/>
<line x1="116.30" y1="321.90" x2="132.50" y2="321.90" stroke="#3b5559" stroke-width="0.9"/>
<circle cx="126.40" cy="272.20" r="1.22" fill="#3b5559"/>
<circle cx="122.00" cy="314.90" r="1.22" fill="#3b5559"/>
<circle cx="127.20" cy="314.90" r="1.22" fill="#3b5559"/>
<circle cx="122.70" cy="321.90" r="1.22" fill="#3b5559"/>
<circle cx="124.10" cy="322.20" r="1.22" fill="#3b5559"/>
<circle cx="124.10" cy="325.00" r="1.22" fill="#3b5559"/>
<circle cx="125.20" cy="327.80" r="1.22" fill="#3b5559"/>
<circle cx="123.40" cy="330.00" r="1.22" fill="#3b5559"/>
<circle cx="127.60" cy="332.70" r="1.22" fill="#3b5559"/>
<line x1="142.10" y1="311.60" x2="142.10" y2="317.30" stroke="#e3a36c" stroke-width="0.9"/>
<line x1="142.10" y1="325.00" x2="142.10" y2="332.70" stroke="#e3a36c" stroke-width="0.9"/>
<rect x="134.20" y="317.30" width="15.90" height="7.70" fill="none" stroke="#e3a36c" stroke-width="0.9"/>
<line x1="134.20" y1="320.80" x2="150.10" y2="320.80" stroke="#e3a36c" stroke-width="0.9"/>
<circle cx="140.00" cy="304.90" r="1.22" fill="#d5843e"/>
<circle cx="138.10" cy="311.20" r="1.22" fill="#d5843e"/>
<circle cx="142.00" cy="317.50" r="1.22" fill="#d5843e"/>
<circle cx="145.00" cy="318.50" r="1.22" fill="#d5843e"/>
<circle cx="140.50" cy="321.00" r="1.22" fill="#d5843e"/>
<circle cx="146.00" cy="323.00" r="1.22" fill="#d5843e"/>
<circle cx="138.80" cy="325.00" r="1.22" fill="#d5843e"/>
<circle cx="144.90" cy="329.50" r="1.22" fill="#d5843e"/>
<circle cx="138.80" cy="333.20" r="1.22" fill="#d5843e"/>
<line x1="168.40" y1="281.70" x2="168.40" y2="286.80" stroke="#3b5559" stroke-width="0.9"/>
<line x1="168.40" y1="292.50" x2="168.40" y2="297.00" stroke="#3b5559" stroke-width="0.9"/>
<rect x="160.30" y="286.80" width="16.20" height="5.70" fill="none" stroke="#3b5559" stroke-width="0.9"/>
<line x1="160.30" y1="288.40" x2="176.50" y2="288.40" stroke="#3b5559" stroke-width="0.9"/>
<circle cx="168.00" cy="282.00" r="1.22" fill="#3b5559"/>
<circle cx="169.00" cy="284.00" r="1.22" fill="#3b5559"/>
<circle cx="165.50" cy="288.50" r="1.22" fill="#3b5559"/>
<circle cx="168.50" cy="288.00" r="1.22" fill="#3b5559"/>
<circle cx="170.50" cy="289.50" r="1.22" fill="#3b5559"/>
<circle cx="168.00" cy="295.00" r="1.22" fill="#3b5559"/>
<circle cx="169.30" cy="296.50" r="1.22" fill="#3b5559"/>
<circle cx="169.50" cy="297.00" r="1.22" fill="#3b5559"/>
<line x1="185.80" y1="268.40" x2="185.80" y2="272.40" stroke="#e3a36c" stroke-width="0.9"/>
<line x1="185.80" y1="282.60" x2="185.80" y2="298.90" stroke="#e3a36c" stroke-width="0.9"/>
<rect x="178.10" y="272.40" width="15.70" height="10.20" fill="none" stroke="#e3a36c" stroke-width="0.9"/>
<line x1="178.10" y1="274.20" x2="193.80" y2="274.20" stroke="#e3a36c" stroke-width="0.9"/>
<circle cx="185.00" cy="268.40" r="1.22" fill="#d5843e"/>
<circle cx="182.50" cy="271.30" r="1.22" fill="#d5843e"/>
<circle cx="183.00" cy="274.30" r="1.22" fill="#d5843e"/>
<circle cx="187.20" cy="272.50" r="1.22" fill="#d5843e"/>
<circle cx="190.00" cy="272.30" r="1.22" fill="#d5843e"/>
<circle cx="190.00" cy="276.50" r="1.22" fill="#d5843e"/>
<circle cx="183.00" cy="281.80" r="1.22" fill="#d5843e"/>
<circle cx="187.00" cy="285.30" r="1.22" fill="#d5843e"/>
<circle cx="182.30" cy="296.50" r="1.22" fill="#d5843e"/>
<circle cx="185.80" cy="298.90" r="1.22" fill="#d5843e"/>
<line x1="95.80" y1="224.50" x2="95.80" y2="231.50" stroke="#8fa0a3" stroke-width="0.6"/>
<rect x="93.50" y="225.80" width="4.60" height="4.40" fill="#fff" stroke="#8fa0a3" stroke-width="0.6"/>
<line x1="93.50" y1="228.00" x2="98.10" y2="228.00" stroke="#8fa0a3" stroke-width="0.6"/>
<text x="101.40" y="228.20" font-size="5.8" text-anchor="start" fill="#222" stroke="#222" stroke-width="0.16" dominant-baseline="central">pretreatment</text>
<line x1="145.20" y1="224.50" x2="145.20" y2="231.50" stroke="#eab98a" stroke-width="0.6"/>
<rect x="142.90" y="225.80" width="4.60" height="4.40" fill="#fff" stroke="#eab98a" stroke-width="0.6"/>
<line x1="142.90" y1="228.00" x2="147.50" y2="228.00" stroke="#eab98a" stroke-width="0.6"/>
<text x="150.60" y="228.20" font-size="5.8" text-anchor="start" fill="#222" stroke="#222" stroke-width="0.16" dominant-baseline="central">posttreatment</text>
<text x="208.40" y="209.60" font-size="9.5" text-anchor="start" fill="#000" dominant-baseline="central" font-weight="bold">f</text>
<line x1="246.00" y1="210.50" x2="246.00" y2="348.00" stroke="#8a8a8a" stroke-width="0.8"/>
<line x1="245.60" y1="348.00" x2="326.10" y2="348.00" stroke="#8a8a8a" stroke-width="0.8"/>
<line x1="244.40" y1="341.60" x2="246.00" y2="341.60" stroke="#777" stroke-width="0.5"/>
<text x="240.30" y="341.60" font-size="5.7" text-anchor="end" fill="#222" stroke="#222" stroke-width="0.16" dominant-baseline="central">0.00</text>
<line x1="244.40" y1="308.85" x2="246.00" y2="308.85" stroke="#777" stroke-width="0.5"/>
<text x="240.30" y="308.85" font-size="5.7" text-anchor="end" fill="#222" stroke="#222" stroke-width="0.16" dominant-baseline="central">0.25</text>
<line x1="244.40" y1="276.10" x2="246.00" y2="276.10" stroke="#777" stroke-width="0.5"/>
<text x="240.30" y="276.10" font-size="5.7" text-anchor="end" fill="#222" stroke="#222" stroke-width="0.16" dominant-baseline="central">0.50</text>
<line x1="244.40" y1="243.35" x2="246.00" y2="243.35" stroke="#777" stroke-width="0.5"/>
<text x="240.30" y="243.35" font-size="5.7" text-anchor="end" fill="#222" stroke="#222" stroke-width="0.16" dominant-baseline="central">0.75</text>
<line x1="244.40" y1="210.60" x2="246.00" y2="210.60" stroke="#777" stroke-width="0.5"/>
<text x="240.30" y="210.60" font-size="5.7" text-anchor="end" fill="#222" stroke="#222" stroke-width="0.16" dominant-baseline="central">1.00</text>
<text x="219.20" y="277.60" font-size="6.9" text-anchor="middle" fill="#000" stroke="#000" stroke-width="0.16" dominant-baseline="central" transform="rotate(-90 219.2 277.6)">Percentage</text>
<rect x="257.00" y="325.23" width="22.00" height="16.43" fill="#b8a9d4" stroke="none" stroke-width="0.6"/>
<rect x="257.00" y="308.85" width="22.00" height="16.43" fill="#b3de85" stroke="none" stroke-width="0.6"/>
<rect x="257.00" y="276.10" width="22.00" height="32.80" fill="#e6b47f" stroke="none" stroke-width="0.6"/>
<rect x="257.00" y="210.60" width="22.00" height="65.55" fill="#e9f59b" stroke="none" stroke-width="0.6"/>
<rect x="293.60" y="246.23" width="21.80" height="95.42" fill="#b8a9d4" stroke="none" stroke-width="0.6"/>
<rect x="293.60" y="210.60" width="21.80" height="35.68" fill="#e9f59b" stroke="none" stroke-width="0.6"/>
<line x1="268.10" y1="348.00" x2="268.10" y2="349.50" stroke="#777" stroke-width="0.5"/>
<text x="269.10" y="352.60" font-size="5.8" text-anchor="end" fill="#111" stroke="#111" stroke-width="0.16" dominant-baseline="central" transform="rotate(-45 269.1 352.6)">pretreatment</text>
<line x1="304.50" y1="348.00" x2="304.50" y2="349.50" stroke="#777" stroke-width="0.5"/>
<text x="305.50" y="352.60" font-size="5.8" text-anchor="end" fill="#111" stroke="#111" stroke-width="0.16" dominant-baseline="central" transform="rotate(-45 305.5 352.6)">posttreatment</text>
<text x="320.90" y="219.20" font-size="5.3" text-anchor="start" fill="#222" stroke="#222" stroke-width="0.16" dominant-baseline="central" font-weight="bold">Subtype</text>
<rect x="320.90" y="224.80" width="6.10" height="5.80" fill="#e9f59b" stroke="none" stroke-width="0.6"/>
<text x="328.60" y="227.70" font-size="5.2" text-anchor="start" fill="#222" stroke="#222" stroke-width="0.16" dominant-baseline="central">A</text>
<rect x="320.90" y="230.60" width="6.10" height="5.80" fill="#e6b47f" stroke="none" stroke-width="0.6"/>
<text x="328.60" y="233.50" font-size="5.2" text-anchor="start" fill="#222" stroke="#222" stroke-width="0.16" dominant-baseline="central">N</text>
<rect x="320.90" y="236.40" width="6.10" height="5.80" fill="#b3de85" stroke="none" stroke-width="0.6"/>
<text x="328.60" y="239.30" font-size="5.2" text-anchor="start" fill="#222" stroke="#222" stroke-width="0.16" dominant-baseline="central">P</text>
<rect x="320.90" y="242.20" width="6.10" height="5.80" fill="#b8a9d4" stroke="none" stroke-width="0.6"/>
<text x="328.60" y="245.10" font-size="5.2" text-anchor="start" fill="#222" stroke="#222" stroke-width="0.16" dominant-baseline="central">Y</text>
<text x="392.40" y="209.80" font-size="9.5" text-anchor="start" fill="#000" dominant-baseline="central" font-weight="bold">g</text>
<rect x="402.20" y="245.10" width="23.30" height="4.70" fill="#e9f59b" stroke="none" stroke-width="0.6"/>
<rect x="425.50" y="245.10" width="23.30" height="4.70" fill="#e6b47f" stroke="none" stroke-width="0.6"/>
<rect x="448.81" y="245.10" width="29.13" height="4.70" fill="#b3de85" stroke="none" stroke-width="0.6"/>
<rect x="477.94" y="245.10" width="34.96" height="4.70" fill="#7bbad6" stroke="none" stroke-width="0.6"/>
<rect x="402.20" y="343.10" width="23.30" height="22.88" fill="#3a55a8" stroke="none" stroke-width="0.6"/>
<rect x="425.50" y="320.22" width="23.30" height="22.88" fill="#3a55a8" stroke="none" stroke-width="0.6"/>
<rect x="448.81" y="291.62" width="29.13" height="28.60" fill="#3a55a8" stroke="none" stroke-width="0.6"/>
<rect x="477.94" y="257.30" width="34.96" height="34.32" fill="#3a55a8" stroke="none" stroke-width="0.6"/>
<rect x="448.81" y="257.30" width="5.88" height="5.77" fill="#e6e6f3" stroke="none" stroke-width="0.6"/>
<rect x="454.63" y="257.30" width="5.88" height="5.77" fill="#e6e6f3" stroke="none" stroke-width="0.6"/>
<rect x="460.46" y="257.30" width="5.88" height="5.77" fill="#c9c9e6" stroke="none" stroke-width="0.6"/>
<rect x="466.29" y="257.30" width="5.88" height="5.77" fill="#c9c9e6" stroke="none" stroke-width="0.6"/>
<rect x="472.11" y="257.30" width="5.88" height="5.77" fill="#c9c9e6" stroke="none" stroke-width="0.6"/>
<rect x="460.46" y="268.74" width="5.88" height="5.77" fill="#e6e6f3" stroke="none" stroke-width="0.6"/>
<rect x="466.29" y="268.74" width="5.88" height="5.77" fill="#e6e6f3" stroke="none" stroke-width="0.6"/>
<rect x="472.11" y="268.74" width="5.88" height="5.77" fill="#e6e6f3" stroke="none" stroke-width="0.6"/>
<rect x="454.63" y="274.46" width="5.88" height="5.77" fill="#e6e6f3" stroke="none" stroke-width="0.6"/>
<rect x="460.46" y="274.46" width="5.88" height="5.77" fill="#c9c9e6" stroke="none" stroke-width="0.6"/>
<rect x="466.29" y="274.46" width="5.88" height="5.77" fill="#c9c9e6" stroke="none" stroke-width="0.6"/>
<rect x="472.11" y="274.46" width="5.88" height="5.77" fill="#e6e6f3" stroke="none" stroke-width="0.6"/>
<rect x="489.59" y="291.62" width="5.88" height="5.77" fill="#e6e6f3" stroke="none" stroke-width="0.6"/>
<rect x="495.42" y="291.62" width="5.88" height="5.77" fill="#e6e6f3" stroke="none" stroke-width="0.6"/>
<rect x="507.07" y="291.62" width="5.88" height="5.77" fill="#c9c9e6" stroke="none" stroke-width="0.6"/>
<rect x="489.59" y="297.34" width="5.88" height="5.77" fill="#c9c9e6" stroke="none" stroke-width="0.6"/>
<rect x="495.42" y="297.34" width="5.88" height="5.77" fill="#e6e6f3" stroke="none" stroke-width="0.6"/>
<rect x="507.07" y="297.34" width="5.88" height="5.77" fill="#c9c9e6" stroke="none" stroke-width="0.6"/>
<rect x="489.59" y="303.06" width="5.88" height="5.77" fill="#c9c9e6" stroke="none" stroke-width="0.6"/>
<rect x="495.42" y="303.06" width="5.88" height="5.77" fill="#e6e6f3" stroke="none" stroke-width="0.6"/>
<rect x="507.07" y="303.06" width="5.88" height="5.77" fill="#e6e6f3" stroke="none" stroke-width="0.6"/>
<rect x="489.59" y="308.78" width="5.88" height="5.77" fill="#e6e6f3" stroke="none" stroke-width="0.6"/>
<rect x="507.07" y="308.78" width="5.88" height="5.77" fill="#e6e6f3" stroke="none" stroke-width="0.6"/>
<rect x="507.07" y="314.50" width="5.88" height="5.77" fill="#e6e6f3" stroke="none" stroke-width="0.6"/>
<rect x="419.68" y="320.22" width="5.88" height="5.77" fill="#c9c9e6" stroke="none" stroke-width="0.6"/>
<rect x="419.68" y="325.94" width="5.88" height="5.77" fill="#e6e6f3" stroke="none" stroke-width="0.6"/>
<rect x="402.20" y="331.66" width="5.88" height="5.77" fill="#e6e6f3" stroke="none" stroke-width="0.6"/>
<rect x="413.85" y="331.66" width="5.88" height="5.77" fill="#e6e6f3" stroke="none" stroke-width="0.6"/>
<rect x="419.68" y="331.66" width="5.88" height="5.77" fill="#c9c9e6" stroke="none" stroke-width="0.6"/>
<rect x="413.85" y="337.38" width="5.88" height="5.77" fill="#e6e6f3" stroke="none" stroke-width="0.6"/>
<rect x="419.68" y="337.38" width="5.88" height="5.77" fill="#c9c9e6" stroke="none" stroke-width="0.6"/>
<rect x="425.50" y="343.10" width="5.88" height="5.77" fill="#c9c9e6" stroke="none" stroke-width="0.6"/>
<rect x="431.33" y="343.10" width="5.88" height="5.77" fill="#c9c9e6" stroke="none" stroke-width="0.6"/>
<rect x="437.16" y="343.10" width="5.88" height="5.77" fill="#e6e6f3" stroke="none" stroke-width="0.6"/>
<rect x="442.98" y="343.10" width="5.88" height="5.77" fill="#c9c9e6" stroke="none" stroke-width="0.6"/>
<rect x="425.50" y="348.82" width="5.88" height="5.77" fill="#e6e6f3" stroke="none" stroke-width="0.6"/>
<rect x="431.33" y="348.82" width="5.88" height="5.77" fill="#e6e6f3" stroke="none" stroke-width="0.6"/>
<rect x="431.33" y="360.26" width="5.88" height="5.77" fill="#e6e6f3" stroke="none" stroke-width="0.6"/>
<rect x="483.76" y="274.46" width="5.88" height="5.77" fill="#4e5fae" stroke="none" stroke-width="0.6"/>
<rect x="495.42" y="274.46" width="5.88" height="5.77" fill="#4a5cad" stroke="none" stroke-width="0.6"/>
<rect x="489.59" y="274.46" width="5.88" height="5.77" fill="#4e60ae" stroke="none" stroke-width="0.6"/>
<rect x="507.07" y="280.18" width="5.88" height="5.77" fill="#4d5fae" stroke="none" stroke-width="0.6"/>
<rect x="477.94" y="268.74" width="5.88" height="5.77" fill="#4a5bac" stroke="none" stroke-width="0.6"/>
<rect x="495.42" y="268.74" width="5.88" height="5.77" fill="#4b5cac" stroke="none" stroke-width="0.6"/>
<rect x="425.50" y="337.38" width="5.88" height="5.77" fill="#4a5bab" stroke="none" stroke-width="0.6"/>
<rect x="431.33" y="337.38" width="5.88" height="5.77" fill="#4d5dab" stroke="none" stroke-width="0.6"/>
<polyline points="413.5,242.1 413.5,213.4 433.5,213.4 433.5,238.5" fill="none" stroke="#333" stroke-width="0.6" stroke-linejoin="round" stroke-linejoin="miter"/>
<polyline points="423.3,213.4 423.3,210.3 474.0,210.3 474.0,212.6" fill="none" stroke="#333" stroke-width="0.6" stroke-linejoin="round" stroke-linejoin="miter"/>
<polyline points="428.4,243.0 428.4,238.5 438.4,238.5 438.4,243.0" fill="none" stroke="#333" stroke-width="0.6" stroke-linejoin="round" stroke-linejoin="miter"/>
<polyline points="457.2,243.3 457.2,212.6 490.6,212.6 490.6,237.2" fill="none" stroke="#333" stroke-width="0.6" stroke-linejoin="round" stroke-linejoin="miter"/>
<polyline points="483.5,243.3 483.5,237.2 497.6,237.2 497.6,239.3" fill="none" stroke="#333" stroke-width="0.6" stroke-linejoin="round" stroke-linejoin="miter"/>
<polyline points="492.5,243.3 492.5,239.3 502.7,239.3 502.7,241.4" fill="none" stroke="#333" stroke-width="0.6" stroke-linejoin="round" stroke-linejoin="miter"/>
<polyline points="498.3,243.3 498.3,241.4 506.9,241.4 506.9,243.3" fill="none" stroke="#333" stroke-width="0.6" stroke-linejoin="round" stroke-linejoin="miter"/>
<polyline points="405.0,243.6 405.0,243.0 412.0,243.0 412.0,243.6" fill="none" stroke="#333" stroke-width="0.6" stroke-linejoin="round" stroke-linejoin="miter"/>
<polyline points="409.0,243.6 409.0,243.0 418.0,243.0 418.0,243.6" fill="none" stroke="#333" stroke-width="0.6" stroke-linejoin="round" stroke-linejoin="miter"/>
<polyline points="415.0,243.6 415.0,243.0 422.0,243.0 422.0,243.6" fill="none" stroke="#333" stroke-width="0.6" stroke-linejoin="round" stroke-linejoin="miter"/>
<polyline points="420.0,243.6 420.0,243.0 424.0,243.0 424.0,243.6" fill="none" stroke="#333" stroke-width="0.6" stroke-linejoin="round" stroke-linejoin="miter"/>
<polyline points="430.0,243.6 430.0,243.0 437.0,243.0 437.0,243.6" fill="none" stroke="#333" stroke-width="0.6" stroke-linejoin="round" stroke-linejoin="miter"/>
<polyline points="436.0,243.6 436.0,243.0 446.0,243.0 446.0,243.6" fill="none" stroke="#333" stroke-width="0.6" stroke-linejoin="round" stroke-linejoin="miter"/>
<polyline points="440.0,243.6 440.0,243.0 448.0,243.0 448.0,243.6" fill="none" stroke="#333" stroke-width="0.6" stroke-linejoin="round" stroke-linejoin="miter"/>
<polyline points="449.0,243.6 449.0,243.0 455.0,243.0 455.0,243.6" fill="none" stroke="#333" stroke-width="0.6" stroke-linejoin="round" stroke-linejoin="miter"/>
<polyline points="452.0,243.6 452.0,243.0 462.0,243.0 462.0,243.6" fill="none" stroke="#333" stroke-width="0.6" stroke-linejoin="round" stroke-linejoin="miter"/>
<polyline points="458.0,243.6 458.0,243.0 466.0,243.0 466.0,243.6" fill="none" stroke="#333" stroke-width="0.6" stroke-linejoin="round" stroke-linejoin="miter"/>
<polyline points="463.0,243.6 463.0,243.0 470.0,243.0 470.0,243.6" fill="none" stroke="#333" stroke-width="0.6" stroke-linejoin="round" stroke-linejoin="miter"/>
<polyline points="467.0,243.6 467.0,243.0 474.0,243.0 474.0,243.6" fill="none" stroke="#333" stroke-width="0.6" stroke-linejoin="round" stroke-linejoin="miter"/>
<polyline points="479.0,243.6 479.0,243.0 485.0,243.0 485.0,243.6" fill="none" stroke="#333" stroke-width="0.6" stroke-linejoin="round" stroke-linejoin="miter"/>
<polyline points="504.0,243.6 504.0,243.0 509.0,243.0 509.0,243.6" fill="none" stroke="#333" stroke-width="0.6" stroke-linejoin="round" stroke-linejoin="miter"/>
<polyline points="508.0,243.6 508.0,243.0 512.0,243.0 512.0,243.6" fill="none" stroke="#333" stroke-width="0.6" stroke-linejoin="round" stroke-linejoin="miter"/>
<rect x="517.00" y="215.80" width="3.90" height="2.80" fill="#7bbad6" stroke="none" stroke-width="0.6"/>
<text x="521.90" y="216.70" font-size="5.3" text-anchor="start" fill="#111" stroke="#111" stroke-width="0.16" dominant-baseline="central">I</text>
<rect x="517.00" y="220.90" width="3.90" height="2.80" fill="#e9f59b" stroke="none" stroke-width="0.6"/>
<text x="521.90" y="221.80" font-size="5.3" text-anchor="start" fill="#111" stroke="#111" stroke-width="0.16" dominant-baseline="central">A</text>
<rect x="517.00" y="226.00" width="3.90" height="2.80" fill="#e6b47f" stroke="none" stroke-width="0.6"/>
<text x="521.90" y="226.90" font-size="5.3" text-anchor="start" fill="#111" stroke="#111" stroke-width="0.16" dominant-baseline="central">N</text>
<rect x="517.00" y="231.10" width="3.90" height="2.80" fill="#b3de85" stroke="none" stroke-width="0.6"/>
<text x="521.90" y="232.00" font-size="5.3" text-anchor="start" fill="#111" stroke="#111" stroke-width="0.16" dominant-baseline="central">P</text>
<text x="534.80" y="209.60" font-size="9.5" text-anchor="start" fill="#000" dominant-baseline="central" font-weight="bold">h</text>
<line x1="580.80" y1="209.10" x2="580.80" y2="347.90" stroke="#8a8a8a" stroke-width="0.8"/>
<line x1="580.40" y1="347.90" x2="670.00" y2="347.90" stroke="#8a8a8a" stroke-width="0.8"/>
<line x1="579.20" y1="341.70" x2="580.80" y2="341.70" stroke="#777" stroke-width="0.5"/>
<text x="577.00" y="341.70" font-size="5.7" text-anchor="end" fill="#222" stroke="#222" stroke-width="0.16" dominant-baseline="central">0.00</text>
<line x1="579.20" y1="310.15" x2="580.80" y2="310.15" stroke="#777" stroke-width="0.5"/>
<text x="577.00" y="310.15" font-size="5.7" text-anchor="end" fill="#222" stroke="#222" stroke-width="0.16" dominant-baseline="central">0.25</text>
<line x1="579.20" y1="278.60" x2="580.80" y2="278.60" stroke="#777" stroke-width="0.5"/>
<text x="577.00" y="278.60" font-size="5.7" text-anchor="end" fill="#222" stroke="#222" stroke-width="0.16" dominant-baseline="central">0.50</text>
<line x1="579.20" y1="247.05" x2="580.80" y2="247.05" stroke="#777" stroke-width="0.5"/>
<text x="577.00" y="247.05" font-size="5.7" text-anchor="end" fill="#222" stroke="#222" stroke-width="0.16" dominant-baseline="central">0.75</text>
<line x1="579.20" y1="215.50" x2="580.80" y2="215.50" stroke="#777" stroke-width="0.5"/>
<text x="577.00" y="215.50" font-size="5.7" text-anchor="end" fill="#222" stroke="#222" stroke-width="0.16" dominant-baseline="central">1.00</text>
<text x="548.40" y="281.90" font-size="7.0" text-anchor="middle" fill="#000" stroke="#000" stroke-width="0.16" dominant-baseline="central" transform="rotate(-90 548.4 281.9)">Percentage</text>
<rect x="592.00" y="325.93" width="24.90" height="15.82" fill="#7bbad6" stroke="none" stroke-width="0.6"/>
<rect x="592.00" y="310.15" width="24.90" height="15.83" fill="#b3de85" stroke="none" stroke-width="0.6"/>
<rect x="592.00" y="278.60" width="24.90" height="31.60" fill="#e6b47f" stroke="none" stroke-width="0.6"/>
<rect x="592.00" y="215.50" width="24.90" height="63.15" fill="#e9f59b" stroke="none" stroke-width="0.6"/>
<rect x="633.10" y="284.28" width="24.60" height="57.47" fill="#7bbad6" stroke="none" stroke-width="0.6"/>
<rect x="633.10" y="238.22" width="24.60" height="46.11" fill="#b3de85" stroke="none" stroke-width="0.6"/>
<rect x="633.10" y="215.50" width="24.60" height="22.77" fill="#e6b47f" stroke="none" stroke-width="0.6"/>
<line x1="604.30" y1="347.90" x2="604.30" y2="349.40" stroke="#777" stroke-width="0.5"/>
<text x="606.70" y="353.60" font-size="5.7" text-anchor="end" fill="#111" stroke="#111" stroke-width="0.16" dominant-baseline="central" transform="rotate(-45 606.6999999999999 353.6)">pretreatment</text>
<line x1="645.40" y1="347.90" x2="645.40" y2="349.40" stroke="#777" stroke-width="0.5"/>
<text x="647.80" y="353.60" font-size="5.7" text-anchor="end" fill="#111" stroke="#111" stroke-width="0.16" dominant-baseline="central" transform="rotate(-45 647.8 353.6)">posttreatment</text>
<text x="662.90" y="219.20" font-size="5.3" text-anchor="start" fill="#222" stroke="#222" stroke-width="0.16" dominant-baseline="central" font-weight="bold">Subtype</text>
<rect x="663.10" y="224.80" width="5.80" height="5.80" fill="#e9f59b" stroke="none" stroke-width="0.6"/>
<text x="670.70" y="227.70" font-size="5.2" text-anchor="start" fill="#222" stroke="#222" stroke-width="0.16" dominant-baseline="central">A</text>
<rect x="663.10" y="230.60" width="5.80" height="5.80" fill="#e6b47f" stroke="none" stroke-width="0.6"/>
<text x="670.70" y="233.50" font-size="5.2" text-anchor="start" fill="#222" stroke="#222" stroke-width="0.16" dominant-baseline="central">N</text>
<rect x="663.10" y="236.40" width="5.80" height="5.80" fill="#b3de85" stroke="none" stroke-width="0.6"/>
<text x="670.70" y="239.30" font-size="5.2" text-anchor="start" fill="#222" stroke="#222" stroke-width="0.16" dominant-baseline="central">P</text>
<rect x="663.10" y="242.20" width="5.80" height="5.80" fill="#7bbad6" stroke="none" stroke-width="0.6"/>
<text x="670.70" y="245.10" font-size="5.2" text-anchor="start" fill="#222" stroke="#222" stroke-width="0.16" dominant-baseline="central">I</text>
<text x="7.60" y="400.90" font-size="9.5" text-anchor="start" fill="#000" dominant-baseline="central" font-weight="bold">i</text>
<defs><linearGradient id="fg1" x1="0" x2="1" y1="0" y2="0"><stop offset="0" stop-color="#b6d4e6"/><stop offset="0.5" stop-color="#bdc8d6"/><stop offset="1" stop-color="#d4aea4"/></linearGradient></defs>
<path d="M32.10 400.10 C99.60 400.10 99.60 442.90 167.10 442.90 L167.10 464.30 C99.60 464.30 99.60 421.60 32.10 421.60 Z" fill="url(#fg1)" fill-opacity="1.0"/>
<defs><linearGradient id="fg2" x1="0" x2="1" y1="0" y2="0"><stop offset="0" stop-color="#a6a4a8"/><stop offset="1" stop-color="#d4aea4"/></linearGradient></defs>
<path d="M32.10 464.30 C99.60 464.30 99.60 464.30 167.10 464.30 L167.10 549.90 C99.60 549.90 99.60 549.90 32.10 549.90 Z" fill="url(#fg2)" fill-opacity="1.0"/>
<text x="28.90" y="410.10" font-size="5.9" text-anchor="end" fill="#5aa5d2" stroke="#5aa5d2" stroke-width="0.16" dominant-baseline="central">P</text>
<text x="26.20" y="418.10" font-size="5.7" text-anchor="end" fill="#5aa5d2" stroke="#5aa5d2" stroke-width="0.16" dominant-baseline="central">1(20%)</text>
<text x="29.40" y="506.00" font-size="5.9" text-anchor="end" fill="#333" stroke="#333" stroke-width="0.16" dominant-baseline="central">A</text>
<text x="25.90" y="515.40" font-size="5.7" text-anchor="end" fill="#333" stroke="#333" stroke-width="0.16" dominant-baseline="central">4(80%)</text>
<text x="168.80" y="495.40" font-size="5.9" text-anchor="start" fill="#a8362e" stroke="#a8362e" stroke-width="0.16" dominant-baseline="central">Y</text>
<text x="168.30" y="506.70" font-size="5.7" text-anchor="start" fill="#a8362e" stroke="#a8362e" stroke-width="0.16" dominant-baseline="central">5(100%)</text>
<text x="36.30" y="559.50" font-size="5.4" text-anchor="middle" fill="#000" stroke="#000" stroke-width="0.16" dominant-baseline="central" font-weight="bold">pretreatment</text>
<text x="153.30" y="558.90" font-size="5.3" text-anchor="middle" fill="#000" stroke="#000" stroke-width="0.16" dominant-baseline="central" font-weight="bold">posttreatment</text>
<text x="203.80" y="398.40" font-size="9.5" text-anchor="start" fill="#000" dominant-baseline="central" font-weight="bold">j</text>
<defs><linearGradient id="fg3" x1="0" x2="1" y1="0" y2="0"><stop offset="0" stop-color="#8cbcd8"/><stop offset="1" stop-color="#8cbcd8"/></linearGradient></defs>
<path d="M223.10 402.80 C293.70 402.80 293.70 502.20 364.30 502.20 L364.30 518.60 C293.70 518.60 293.70 419.20 223.10 419.20 Z" fill="url(#fg3)" fill-opacity="0.55"/>
<defs><linearGradient id="fg4" x1="0" x2="1" y1="0" y2="0"><stop offset="0" stop-color="#d0a064"/><stop offset="1" stop-color="#b87a6c"/></linearGradient></defs>
<path d="M223.10 452.40 C293.70 452.40 293.70 435.80 364.30 435.80 L364.30 452.20 C293.70 452.20 293.70 469.10 223.10 469.10 Z" fill="url(#fg4)" fill-opacity="0.55"/>
<defs><linearGradient id="fg5" x1="0" x2="1" y1="0" y2="0"><stop offset="0" stop-color="#d0a064"/><stop offset="0.5" stop-color="#98a68c"/><stop offset="1" stop-color="#8cbcd8"/></linearGradient></defs>
<path d="M223.10 469.10 C293.70 469.10 293.70 518.60 364.30 518.60 L364.30 535.40 C293.70 535.40 293.70 486.00 223.10 486.00 Z" fill="url(#fg5)" fill-opacity="0.55"/>
<defs><linearGradient id="fg6" x1="0" x2="1" y1="0" y2="0"><stop offset="0" stop-color="#5c585c"/><stop offset="1" stop-color="#b87a6c"/></linearGradient></defs>
<path d="M223.10 518.70 C293.70 518.70 293.70 452.20 364.30 452.20 L364.30 468.30 C293.70 468.30 293.70 535.20 223.10 535.20 Z" fill="url(#fg6)" fill-opacity="0.55"/>
<defs><linearGradient id="fg7" x1="0" x2="1" y1="0" y2="0"><stop offset="0" stop-color="#5c585c"/><stop offset="1" stop-color="#8cbcd8"/></linearGradient></defs>
<path d="M223.10 535.20 C293.70 535.20 293.70 535.40 364.30 535.40 L364.30 551.60 C293.70 551.60 293.70 551.60 223.10 551.60 Z" fill="url(#fg7)" fill-opacity="0.55"/>
<text x="219.90" y="409.90" font-size="5.9" text-anchor="end" fill="#5aa5d2" stroke="#5aa5d2" stroke-width="0.16" dominant-baseline="central">P</text>
<text x="217.40" y="418.10" font-size="5.7" text-anchor="end" fill="#5aa5d2" stroke="#5aa5d2" stroke-width="0.16" dominant-baseline="central">1(20%)</text>
<text x="219.60" y="467.90" font-size="5.9" text-anchor="end" fill="#d0883f" stroke="#d0883f" stroke-width="0.16" dominant-baseline="central">N</text>
<text x="217.40" y="475.80" font-size="5.7" text-anchor="end" fill="#d0883f" stroke="#d0883f" stroke-width="0.16" dominant-baseline="central">2(40%)</text>
<text x="219.60" y="534.80" font-size="5.9" text-anchor="end" fill="#333" stroke="#333" stroke-width="0.16" dominant-baseline="central">A</text>
<text x="217.40" y="542.60" font-size="5.7" text-anchor="end" fill="#333" stroke="#333" stroke-width="0.16" dominant-baseline="central">2(40%)</text>
<text x="366.00" y="451.60" font-size="5.9" text-anchor="start" fill="#a8362e" stroke="#a8362e" stroke-width="0.16" dominant-baseline="central">I</text>
<text x="366.00" y="463.00" font-size="5.7" text-anchor="start" fill="#a8362e" stroke="#a8362e" stroke-width="0.16" dominant-baseline="central">2(40%)</text>
<text x="365.90" y="526.30" font-size="5.9" text-anchor="start" fill="#5aa5d2" stroke="#5aa5d2" stroke-width="0.16" dominant-baseline="central">P</text>
<text x="365.90" y="535.40" font-size="5.7" text-anchor="start" fill="#5aa5d2" stroke="#5aa5d2" stroke-width="0.16" dominant-baseline="central">3(60%)</text>
<text x="235.20" y="560.70" font-size="5.4" text-anchor="middle" fill="#000" stroke="#000" stroke-width="0.16" dominant-baseline="central" font-weight="bold">pretreatment</text>
<text x="352.30" y="559.80" font-size="5.3" text-anchor="middle" fill="#000" stroke="#000" stroke-width="0.16" dominant-baseline="central" font-weight="bold">posttreatment</text>
<text x="394.80" y="401.00" font-size="9.5" text-anchor="start" fill="#000" dominant-baseline="central" font-weight="bold">k</text>
<line x1="416.30" y1="396.80" x2="416.30" y2="556.10" stroke="#333" stroke-width="0.9"/>
<line x1="415.85" y1="556.10" x2="539.80" y2="556.10" stroke="#333" stroke-width="0.9"/>
<line x1="414.50" y1="552.20" x2="416.30" y2="552.20" stroke="#333" stroke-width="0.5"/>
<text x="413.70" y="552.20" font-size="6.3" text-anchor="end" fill="#222" stroke="#222" stroke-width="0.16" dominant-baseline="central">0</text>
<line x1="414.50" y1="501.90" x2="416.30" y2="501.90" stroke="#333" stroke-width="0.5"/>
<text x="413.70" y="501.90" font-size="6.3" text-anchor="end" fill="#222" stroke="#222" stroke-width="0.16" dominant-baseline="central">2</text>
<line x1="414.50" y1="451.60" x2="416.30" y2="451.60" stroke="#333" stroke-width="0.5"/>
<text x="413.70" y="451.60" font-size="6.3" text-anchor="end" fill="#222" stroke="#222" stroke-width="0.16" dominant-baseline="central">4</text>
<line x1="414.50" y1="401.30" x2="416.30" y2="401.30" stroke="#333" stroke-width="0.5"/>
<text x="413.70" y="401.30" font-size="6.3" text-anchor="end" fill="#222" stroke="#222" stroke-width="0.16" dominant-baseline="central">6</text>
<line x1="450.00" y1="556.10" x2="450.00" y2="557.70" stroke="#333" stroke-width="0.5"/>
<line x1="506.40" y1="556.10" x2="506.40" y2="557.70" stroke="#333" stroke-width="0.5"/>
<text x="447.60" y="563.30" font-size="5.8" text-anchor="middle" fill="#111" stroke="#111" stroke-width="0.16" dominant-baseline="central">pretreatment</text>
<text x="510.40" y="563.50" font-size="5.8" text-anchor="middle" fill="#111" stroke="#111" stroke-width="0.16" dominant-baseline="central">posttreatment</text>
<text x="404.80" y="474.00" font-size="6.9" text-anchor="middle" fill="#000" stroke="#000" stroke-width="0.16" dominant-baseline="central" transform="rotate(-90 404.8 474)">DLL3 expression</text>
<line x1="450.20" y1="404.20" x2="506.30" y2="537.50" stroke="#b0b0b0" stroke-width="0.5"/>
<line x1="450.20" y1="409.10" x2="506.30" y2="545.50" stroke="#b0b0b0" stroke-width="0.5"/>
<line x1="450.20" y1="468.00" x2="506.30" y2="548.80" stroke="#b0b0b0" stroke-width="0.5"/>
<line x1="450.20" y1="491.20" x2="506.30" y2="548.80" stroke="#b0b0b0" stroke-width="0.5"/>
<line x1="450.20" y1="539.10" x2="506.30" y2="537.30" stroke="#b0b0b0" stroke-width="0.5"/>
<line x1="450.20" y1="404.20" x2="450.20" y2="409.30" stroke="#3b5559" stroke-width="0.8"/>
<line x1="450.20" y1="491.20" x2="450.20" y2="539.30" stroke="#3b5559" stroke-width="0.8"/>
<rect x="436.40" y="409.30" width="28.10" height="81.90" fill="none" stroke="#3b5559" stroke-width="0.8"/>
<line x1="436.40" y1="468.00" x2="464.50" y2="468.00" stroke="#b5b5b5" stroke-width="1.2"/>
<circle cx="450.20" cy="404.20" r="1.25" fill="#3b5559"/>
<circle cx="450.20" cy="409.10" r="1.25" fill="#3b5559"/>
<circle cx="450.20" cy="468.00" r="1.25" fill="#3b5559"/>
<circle cx="450.20" cy="491.20" r="1.25" fill="#3b5559"/>
<circle cx="450.20" cy="539.10" r="1.25" fill="#3b5559"/>
<rect x="492.30" y="537.30" width="28.30" height="8.20" fill="none" stroke="#e3a36c" stroke-width="0.8"/>
<circle cx="506.30" cy="537.30" r="1.25" fill="#d5843e"/>
<circle cx="506.30" cy="545.50" r="1.25" fill="#d5843e"/>
<circle cx="506.30" cy="548.80" r="1.25" fill="#d5843e"/>
<text x="445.60" y="402.70" font-size="6.3" text-anchor="start" fill="#111" stroke="#111" stroke-width="0.16" dominant-baseline="central">p = 0.12</text>
<text x="534.40" y="401.60" font-size="9.5" text-anchor="start" fill="#000" dominant-baseline="central" font-weight="bold">l</text>
<line x1="565.40" y1="397.00" x2="565.40" y2="556.20" stroke="#333" stroke-width="0.9"/>
<line x1="564.95" y1="556.20" x2="682.40" y2="556.20" stroke="#333" stroke-width="0.9"/>
<line x1="563.60" y1="547.70" x2="565.40" y2="547.70" stroke="#333" stroke-width="0.5"/>
<text x="562.80" y="547.70" font-size="6.6" text-anchor="end" fill="#222" stroke="#222" stroke-width="0.16" dominant-baseline="central">4.0</text>
<line x1="563.60" y1="513.80" x2="565.40" y2="513.80" stroke="#333" stroke-width="0.5"/>
<text x="562.80" y="513.80" font-size="6.6" text-anchor="end" fill="#222" stroke="#222" stroke-width="0.16" dominant-baseline="central">4.5</text>
<line x1="563.60" y1="479.90" x2="565.40" y2="479.90" stroke="#333" stroke-width="0.5"/>
<text x="562.80" y="479.90" font-size="6.6" text-anchor="end" fill="#222" stroke="#222" stroke-width="0.16" dominant-baseline="central">5.0</text>
<line x1="563.60" y1="446.00" x2="565.40" y2="446.00" stroke="#333" stroke-width="0.5"/>
<text x="562.80" y="446.00" font-size="6.6" text-anchor="end" fill="#222" stroke="#222" stroke-width="0.16" dominant-baseline="central">5.5</text>
<line x1="563.60" y1="412.10" x2="565.40" y2="412.10" stroke="#333" stroke-width="0.5"/>
<text x="562.80" y="412.10" font-size="6.6" text-anchor="end" fill="#222" stroke="#222" stroke-width="0.16" dominant-baseline="central">6.0</text>
<line x1="597.40" y1="556.20" x2="597.40" y2="557.80" stroke="#333" stroke-width="0.5"/>
<line x1="650.80" y1="556.20" x2="650.80" y2="557.80" stroke="#333" stroke-width="0.5"/>
<text x="594.00" y="562.30" font-size="5.8" text-anchor="middle" fill="#111" stroke="#111" stroke-width="0.16" dominant-baseline="central">pretreatment</text>
<text x="656.40" y="561.70" font-size="5.8" text-anchor="middle" fill="#111" stroke="#111" stroke-width="0.16" dominant-baseline="central">posttreatment</text>
<text x="549.40" y="473.00" font-size="6.6" text-anchor="middle" fill="#000" stroke="#000" stroke-width="0.16" dominant-baseline="central" transform="rotate(-90 549.4 473)">HES1&#160;&#160;expression</text>
<line x1="597.40" y1="404.10" x2="650.80" y2="406.70" stroke="#b0b0b0" stroke-width="0.5"/>
<line x1="597.40" y1="461.80" x2="650.80" y2="456.90" stroke="#b0b0b0" stroke-width="0.5"/>
<line x1="597.40" y1="548.70" x2="650.80" y2="511.90" stroke="#b0b0b0" stroke-width="0.5"/>
<line x1="597.40" y1="520.30" x2="650.80" y2="508.10" stroke="#b0b0b0" stroke-width="0.5"/>
<line x1="597.40" y1="527.60" x2="650.80" y2="424.10" stroke="#b0b0b0" stroke-width="0.5"/>
<line x1="597.40" y1="404.10" x2="597.40" y2="461.80" stroke="#3b5559" stroke-width="0.8"/>
<line x1="597.40" y1="527.80" x2="597.40" y2="548.70" stroke="#3b5559" stroke-width="0.8"/>
<rect x="584.10" y="461.80" width="26.70" height="66.00" fill="none" stroke="#a3b1b3" stroke-width="0.9"/>
<line x1="584.10" y1="520.40" x2="610.80" y2="520.40" stroke="#3b5559" stroke-width="0.8"/>
<circle cx="597.40" cy="404.10" r="1.25" fill="#3b5559"/>
<circle cx="597.40" cy="461.80" r="1.25" fill="#3b5559"/>
<circle cx="597.40" cy="520.30" r="1.25" fill="#3b5559"/>
<circle cx="597.40" cy="527.60" r="1.25" fill="#3b5559"/>
<circle cx="597.40" cy="548.70" r="1.25" fill="#3b5559"/>
<line x1="650.80" y1="406.70" x2="650.80" y2="424.10" stroke="#eec49c" stroke-width="0.9"/>
<line x1="650.80" y1="508.10" x2="650.80" y2="511.90" stroke="#eec49c" stroke-width="0.9"/>
<rect x="637.30" y="424.10" width="27.20" height="84.00" fill="none" stroke="#e3a36c" stroke-width="0.8"/>
<line x1="637.30" y1="456.90" x2="664.50" y2="456.90" stroke="#ecc09a" stroke-width="1.0"/>
<circle cx="650.80" cy="406.70" r="1.25" fill="#d5843e"/>
<circle cx="650.80" cy="424.10" r="1.25" fill="#d5843e"/>
<circle cx="650.80" cy="456.90" r="1.25" fill="#d5843e"/>
<circle cx="650.80" cy="508.10" r="1.25" fill="#d5843e"/>
<circle cx="650.80" cy="511.90" r="1.25" fill="#d5843e"/>
<text x="593.00" y="403.40" font-size="6.3" text-anchor="start" fill="#111" stroke="#111" stroke-width="0.16" dominant-baseline="central">p = 0.12</text>
</g>
</svg></body></html>
